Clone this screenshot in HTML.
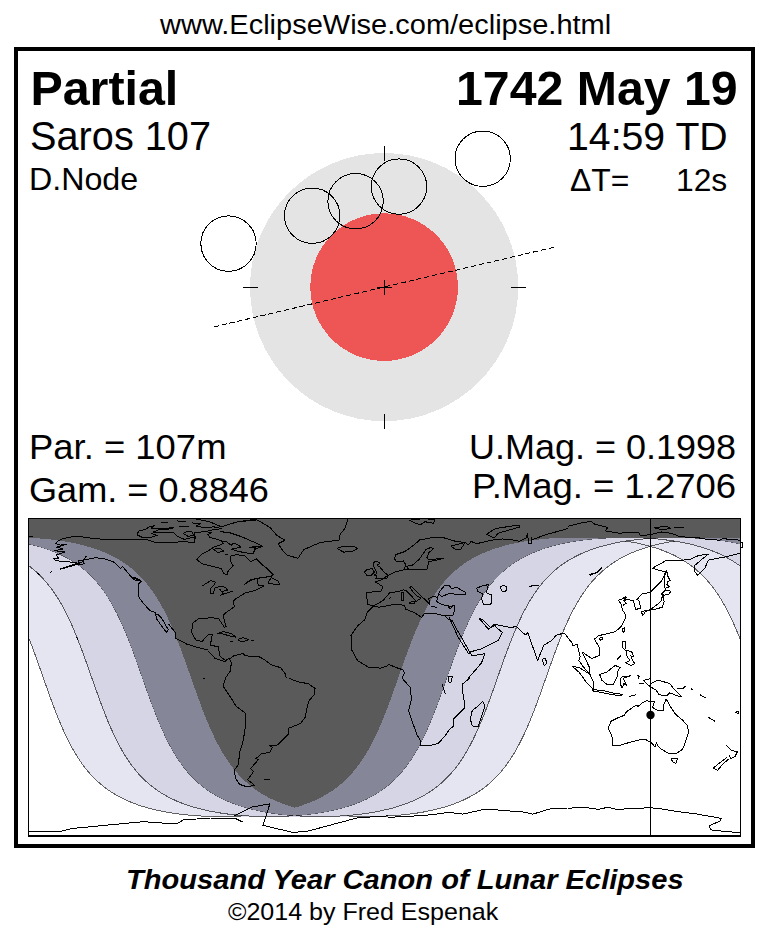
<!DOCTYPE html>
<html><head><meta charset="utf-8"><title>Partial Lunar Eclipse 1742 May 19</title>
<style>
html,body{margin:0;padding:0;background:#fff;}
body{width:770px;height:940px;position:relative;overflow:hidden;font-family:"Liberation Sans",sans-serif;color:#000;}
.t{position:absolute;white-space:pre;line-height:1;margin:0;}
.r{text-align:right;}
#frame{position:absolute;left:14px;top:47px;width:733px;height:793px;border:4px solid #000;}
svg{position:absolute;left:0;top:0;}
</style></head><body>
<div id="frame"></div>
<svg width="770" height="940" viewBox="0 0 770 940">
 <g shape-rendering="crispEdges">
  <circle cx="384.1" cy="287.1" r="134.1" fill="#e4e4e4"/>
  <circle cx="384.1" cy="287.1" r="73.8" fill="#ee5555"/>
 </g>
 <g stroke="#000" stroke-width="1" fill="none" shape-rendering="crispEdges">
  <path d="M384.5,146V161 M384.5,414V429 M243,287.5H258 M511,287.5H526 M377,287.5H392 M384.5,280V295"/>
 </g>
 <path d="M213.8,326.9L555.4,246.9" stroke="#000" stroke-width="1" stroke-dasharray="5.2,2.8" fill="none" shape-rendering="crispEdges"/>
 <circle cx="228.5" cy="243.6" r="27.7" fill="none" stroke="#000" stroke-width="1" shape-rendering="crispEdges"/><circle cx="312.2" cy="215.7" r="27.7" fill="none" stroke="#000" stroke-width="1" shape-rendering="crispEdges"/><circle cx="355.6" cy="201.2" r="27.7" fill="none" stroke="#000" stroke-width="1" shape-rendering="crispEdges"/><circle cx="399.0" cy="186.6" r="27.7" fill="none" stroke="#000" stroke-width="1" shape-rendering="crispEdges"/><circle cx="482.7" cy="158.7" r="27.7" fill="none" stroke="#000" stroke-width="1" shape-rendering="crispEdges"/>
 <!-- map -->
 <g shape-rendering="crispEdges">
  <rect x="29" y="519" width="711" height="316" fill="#fff"/>
  <path d="M29.0,519.0 L740.0,519.0 L740.0,638.7 L739.0,636.2 L738.0,633.8 L737.0,631.4 L736.0,629.0 L735.0,626.7 L734.0,624.4 L733.0,622.2 L732.0,620.0 L731.0,617.9 L730.0,615.8 L729.0,613.8 L728.0,611.9 L727.0,609.9 L726.0,608.0 L725.0,606.2 L724.0,604.4 L723.0,602.7 L722.0,601.0 L721.0,599.3 L720.0,597.7 L719.0,596.2 L718.0,594.6 L717.0,593.1 L716.0,591.7 L715.0,590.3 L714.0,588.9 L713.0,587.6 L712.0,586.3 L711.0,585.0 L710.0,583.8 L709.0,582.6 L708.0,581.4 L707.0,580.3 L706.0,579.2 L705.0,578.1 L704.0,577.0 L703.0,576.0 L702.0,575.0 L701.0,574.0 L700.0,573.1 L699.0,572.2 L698.0,571.3 L697.0,570.4 L696.0,569.6 L695.0,568.7 L694.0,567.9 L693.0,567.1 L692.0,566.4 L691.0,565.6 L690.0,564.9 L689.0,564.2 L688.0,563.5 L687.0,562.8 L686.0,562.1 L685.0,561.5 L684.0,560.9 L683.0,560.2 L682.0,559.6 L681.0,559.1 L680.0,558.5 L679.0,557.9 L678.0,557.4 L677.0,556.8 L676.0,556.3 L675.0,555.8 L674.0,555.3 L673.0,554.8 L672.0,554.4 L671.0,553.9 L670.0,553.5 L669.0,553.0 L668.0,552.6 L667.0,552.2 L666.0,551.8 L665.0,551.4 L664.0,551.0 L663.0,550.6 L662.0,550.2 L661.0,549.8 L660.0,549.5 L659.0,549.1 L658.0,548.8 L657.0,548.5 L656.0,548.1 L655.0,547.8 L654.0,547.5 L653.0,547.2 L652.0,546.9 L651.0,546.6 L650.0,546.4 L649.0,546.7 L648.0,547.0 L647.0,547.3 L646.0,547.6 L645.0,547.9 L644.0,548.2 L643.0,548.5 L642.0,548.9 L641.0,549.2 L640.0,549.6 L639.0,549.9 L638.0,550.3 L637.0,550.7 L636.0,551.1 L635.0,551.5 L634.0,551.9 L633.0,552.3 L632.0,552.7 L631.0,553.1 L630.0,553.6 L629.0,554.0 L628.0,554.5 L627.0,555.0 L626.0,555.5 L625.0,556.0 L624.0,556.5 L623.0,557.0 L622.0,557.5 L621.0,558.1 L620.0,558.6 L619.0,559.2 L618.0,559.8 L617.0,560.4 L616.0,561.0 L615.0,561.7 L614.0,562.3 L613.0,563.0 L612.0,563.7 L611.0,564.4 L610.0,565.1 L609.0,565.8 L608.0,566.6 L607.0,567.3 L606.0,568.1 L605.0,568.9 L604.0,569.8 L603.0,570.6 L602.0,571.5 L601.0,572.4 L600.0,573.4 L599.0,574.3 L598.0,575.3 L597.0,576.3 L596.0,577.3 L595.0,578.4 L594.0,579.5 L593.0,580.6 L592.0,581.7 L591.0,582.9 L590.0,584.1 L589.0,585.3 L588.0,586.6 L587.0,587.9 L586.0,589.3 L585.0,590.7 L584.0,592.1 L583.0,593.5 L582.0,595.0 L581.0,596.6 L580.0,598.2 L579.0,599.8 L578.0,601.4 L577.0,603.2 L576.0,604.9 L575.0,606.7 L574.0,608.6 L573.0,610.4 L572.0,612.4 L571.0,614.4 L570.0,616.4 L569.0,618.5 L568.0,620.6 L567.0,622.8 L566.0,625.0 L565.0,627.3 L564.0,629.6 L563.0,632.0 L562.0,634.4 L561.0,636.9 L560.0,639.4 L559.0,641.9 L558.0,644.5 L557.0,647.2 L556.0,649.8 L555.0,652.5 L554.0,655.2 L553.0,658.0 L552.0,660.8 L551.0,663.5 L550.0,666.4 L549.0,669.2 L548.0,672.0 L547.0,674.9 L546.0,677.7 L545.0,680.6 L544.0,683.4 L543.0,686.2 L542.0,689.1 L541.0,691.9 L540.0,694.7 L539.0,697.4 L538.0,700.2 L537.0,702.9 L536.0,705.5 L535.0,708.2 L534.0,710.8 L533.0,713.3 L532.0,715.9 L531.0,718.4 L530.0,720.8 L529.0,723.2 L528.0,725.5 L527.0,727.8 L526.0,730.1 L525.0,732.3 L524.0,734.5 L523.0,736.6 L522.0,738.6 L521.0,740.6 L520.0,742.6 L519.0,744.5 L518.0,746.4 L517.0,748.2 L516.0,750.0 L515.0,751.7 L514.0,753.4 L513.0,755.0 L512.0,756.6 L511.0,758.2 L510.0,759.7 L509.0,761.2 L508.0,762.6 L507.0,764.0 L506.0,765.4 L505.0,766.7 L504.0,768.0 L503.0,769.3 L502.0,770.5 L501.0,771.7 L500.0,772.9 L499.0,774.0 L498.0,775.1 L497.0,776.2 L496.0,777.2 L495.0,778.2 L494.0,779.2 L493.0,780.2 L492.0,781.1 L491.0,782.0 L490.0,782.9 L489.0,783.8 L488.0,784.6 L487.0,785.5 L486.0,786.3 L485.0,787.1 L484.0,787.8 L483.0,788.6 L482.0,789.3 L481.0,790.0 L480.0,790.7 L479.0,791.4 L478.0,792.0 L477.0,792.7 L476.0,793.3 L475.0,793.9 L474.0,794.5 L473.0,795.1 L472.0,795.6 L471.0,796.2 L470.0,796.7 L469.0,797.3 L468.0,797.8 L467.0,798.3 L466.0,798.8 L465.0,799.3 L464.0,799.7 L463.0,800.2 L462.0,800.6 L461.0,801.1 L460.0,801.5 L459.0,801.9 L458.0,802.3 L457.0,802.7 L456.0,803.1 L455.0,803.5 L454.0,803.9 L453.0,804.2 L452.0,804.6 L451.0,805.0 L450.0,805.3 L449.0,805.6 L448.0,806.0 L447.0,806.3 L446.0,806.6 L445.0,806.9 L444.0,807.2 L443.0,807.5 L442.0,807.8 L441.0,808.0 L440.0,808.3 L439.0,808.6 L438.0,808.8 L437.0,809.1 L436.0,809.3 L435.0,809.6 L434.0,809.8 L433.0,810.0 L432.0,810.3 L431.0,810.5 L430.0,810.7 L429.0,810.9 L428.0,811.1 L427.0,811.3 L426.0,811.5 L425.0,811.7 L424.0,811.9 L423.0,812.1 L422.0,812.2 L421.0,812.4 L420.0,812.6 L419.0,812.7 L418.0,812.9 L417.0,813.1 L416.0,813.2 L415.0,813.4 L414.0,813.5 L413.0,813.6 L412.0,813.8 L411.0,813.9 L410.0,814.0 L409.0,814.2 L408.0,814.3 L407.0,814.4 L406.0,814.5 L405.0,814.6 L404.0,814.7 L403.0,814.8 L402.0,814.9 L401.0,815.0 L400.0,815.1 L399.0,815.2 L398.0,815.3 L397.0,815.4 L396.0,815.5 L395.0,815.5 L394.0,815.6 L393.0,815.7 L392.0,815.8 L391.0,815.8 L390.0,815.9 L389.0,815.9 L388.0,816.0 L387.0,816.1 L386.0,816.1 L385.0,816.2 L384.0,816.2 L383.0,816.2 L382.0,816.3 L381.0,816.3 L380.0,816.4 L379.0,816.4 L378.0,816.4 L377.0,816.4 L376.0,816.5 L375.0,816.5 L374.0,816.5 L373.0,816.5 L372.0,816.5 L371.0,816.5 L370.0,816.5 L369.0,816.5 L368.0,816.5 L367.0,816.5 L366.0,816.5 L365.0,816.5 L364.0,816.5 L363.0,816.5 L362.0,816.5 L361.0,816.5 L360.0,816.5 L359.0,816.5 L358.0,816.5 L357.0,816.5 L356.0,816.5 L355.0,816.5 L354.0,816.5 L353.0,816.5 L352.0,816.5 L351.0,816.5 L350.0,816.5 L349.0,816.5 L348.0,816.5 L347.0,816.5 L346.0,816.5 L345.0,816.5 L344.0,816.5 L343.0,816.5 L342.0,816.5 L341.0,816.5 L340.0,816.5 L339.0,816.5 L338.0,816.5 L337.0,816.5 L336.0,816.5 L335.0,816.5 L334.0,816.5 L333.0,816.5 L332.0,816.5 L331.0,816.5 L330.0,816.5 L329.0,816.5 L328.0,816.5 L327.0,816.5 L326.0,816.5 L325.0,816.5 L324.0,816.5 L323.0,816.5 L322.0,816.5 L321.0,816.5 L320.0,816.5 L319.0,816.5 L318.0,816.5 L317.0,816.5 L316.0,816.5 L315.0,816.5 L314.0,816.5 L313.0,816.5 L312.0,816.5 L311.0,816.5 L310.0,816.5 L309.0,816.5 L308.0,816.5 L307.0,816.5 L306.0,816.5 L305.0,816.5 L304.0,816.5 L303.0,816.5 L302.0,816.5 L301.0,816.5 L300.0,816.5 L299.0,816.5 L298.0,816.5 L297.0,816.5 L296.0,816.5 L295.0,816.5 L294.0,816.5 L293.0,816.5 L292.0,816.5 L291.0,816.5 L290.0,816.5 L289.0,816.5 L288.0,816.5 L287.0,816.5 L286.0,816.5 L285.0,816.5 L284.0,816.5 L283.0,816.5 L282.0,816.5 L281.0,816.5 L280.0,816.5 L279.0,816.5 L278.0,816.5 L277.0,816.5 L276.0,816.5 L275.0,816.5 L274.0,816.5 L273.0,816.5 L272.0,816.5 L271.0,816.5 L270.0,816.5 L269.0,816.5 L268.0,816.5 L267.0,816.5 L266.0,816.5 L265.0,816.5 L264.0,816.5 L263.0,816.5 L262.0,816.5 L261.0,816.5 L260.0,816.5 L259.0,816.5 L258.0,816.5 L257.0,816.5 L256.0,816.5 L255.0,816.5 L254.0,816.5 L253.0,816.5 L252.0,816.5 L251.0,816.5 L250.0,816.5 L249.0,816.5 L248.0,816.5 L247.0,816.5 L246.0,816.5 L245.0,816.5 L244.0,816.5 L243.0,816.5 L242.0,816.5 L241.0,816.5 L240.0,816.5 L239.0,816.5 L238.0,816.5 L237.0,816.5 L236.0,816.5 L235.0,816.5 L234.0,816.5 L233.0,816.5 L232.0,816.5 L231.0,816.5 L230.0,816.5 L229.0,816.5 L228.0,816.5 L227.0,816.5 L226.0,816.5 L225.0,816.5 L224.0,816.5 L223.0,816.5 L222.0,816.5 L221.0,816.5 L220.0,816.5 L219.0,816.5 L218.0,816.5 L217.0,816.5 L216.0,816.5 L215.0,816.5 L214.0,816.5 L213.0,816.5 L212.0,816.4 L211.0,816.4 L210.0,816.4 L209.0,816.3 L208.0,816.3 L207.0,816.3 L206.0,816.2 L205.0,816.2 L204.0,816.1 L203.0,816.1 L202.0,816.0 L201.0,816.0 L200.0,815.9 L199.0,815.9 L198.0,815.8 L197.0,815.7 L196.0,815.7 L195.0,815.6 L194.0,815.5 L193.0,815.4 L192.0,815.4 L191.0,815.3 L190.0,815.2 L189.0,815.1 L188.0,815.0 L187.0,814.9 L186.0,814.8 L185.0,814.7 L184.0,814.6 L183.0,814.5 L182.0,814.4 L181.0,814.2 L180.0,814.1 L179.0,814.0 L178.0,813.9 L177.0,813.7 L176.0,813.6 L175.0,813.5 L174.0,813.3 L173.0,813.2 L172.0,813.0 L171.0,812.9 L170.0,812.7 L169.0,812.5 L168.0,812.4 L167.0,812.2 L166.0,812.0 L165.0,811.8 L164.0,811.6 L163.0,811.4 L162.0,811.3 L161.0,811.1 L160.0,810.8 L159.0,810.6 L158.0,810.4 L157.0,810.2 L156.0,810.0 L155.0,809.7 L154.0,809.5 L153.0,809.3 L152.0,809.0 L151.0,808.8 L150.0,808.5 L149.0,808.2 L148.0,808.0 L147.0,807.7 L146.0,807.4 L145.0,807.1 L144.0,806.8 L143.0,806.5 L142.0,806.2 L141.0,805.9 L140.0,805.5 L139.0,805.2 L138.0,804.9 L137.0,804.5 L136.0,804.1 L135.0,803.8 L134.0,803.4 L133.0,803.0 L132.0,802.6 L131.0,802.2 L130.0,801.8 L129.0,801.4 L128.0,801.0 L127.0,800.5 L126.0,800.1 L125.0,799.6 L124.0,799.1 L123.0,798.7 L122.0,798.2 L121.0,797.6 L120.0,797.1 L119.0,796.6 L118.0,796.1 L117.0,795.5 L116.0,794.9 L115.0,794.3 L114.0,793.7 L113.0,793.1 L112.0,792.5 L111.0,791.8 L110.0,791.2 L109.0,790.5 L108.0,789.8 L107.0,789.1 L106.0,788.4 L105.0,787.6 L104.0,786.8 L103.0,786.0 L102.0,785.2 L101.0,784.4 L100.0,783.6 L99.0,782.7 L98.0,781.8 L97.0,780.9 L96.0,779.9 L95.0,778.9 L94.0,777.9 L93.0,776.9 L92.0,775.9 L91.0,774.8 L90.0,773.7 L89.0,772.5 L88.0,771.4 L87.0,770.2 L86.0,768.9 L85.0,767.7 L84.0,766.4 L83.0,765.0 L82.0,763.7 L81.0,762.2 L80.0,760.8 L79.0,759.3 L78.0,757.8 L77.0,756.2 L76.0,754.6 L75.0,752.9 L74.0,751.2 L73.0,749.5 L72.0,747.7 L71.0,745.9 L70.0,744.0 L69.0,742.1 L68.0,740.1 L67.0,738.1 L66.0,736.0 L65.0,733.9 L64.0,731.7 L63.0,729.5 L62.0,727.2 L61.0,724.9 L60.0,722.5 L59.0,720.1 L58.0,717.7 L57.0,715.2 L56.0,712.6 L55.0,710.1 L54.0,707.5 L53.0,704.8 L52.0,702.1 L51.0,699.4 L50.0,696.7 L49.0,693.9 L48.0,691.1 L47.0,688.3 L46.0,685.5 L45.0,682.6 L44.0,679.8 L43.0,676.9 L42.0,674.1 L41.0,671.2 L40.0,668.4 L39.0,665.6 L38.0,662.8 L37.0,660.0 L36.0,657.2 L35.0,654.5 L34.0,651.8 L33.0,649.1 L32.0,646.4 L31.0,643.8 L30.0,641.2 L29.0,638.7Z" fill="#e5e5f1"/>
  <g fill="none" stroke="#000" stroke-opacity="0.6" stroke-width="1"><path d="M29.0,638.7 L30.0,641.2 L31.0,643.8 L32.0,646.4 L33.0,649.1 L34.0,651.8 L35.0,654.5 L36.0,657.2 L37.0,660.0 L38.0,662.8 L39.0,665.6 L40.0,668.4 L41.0,671.2 L42.0,674.1 L43.0,676.9 L44.0,679.8 L45.0,682.6 L46.0,685.5 L47.0,688.3 L48.0,691.1 L49.0,693.9 L50.0,696.7 L51.0,699.4 L52.0,702.1 L53.0,704.8 L54.0,707.5 L55.0,710.1 L56.0,712.6 L57.0,715.2 L58.0,717.7 L59.0,720.1 L60.0,722.5 L61.0,724.9 L62.0,727.2 L63.0,729.5 L64.0,731.7 L65.0,733.9 L66.0,736.0 L67.0,738.1 L68.0,740.1 L69.0,742.1 L70.0,744.0 L71.0,745.9 L72.0,747.7 L73.0,749.5 L74.0,751.2 L75.0,752.9 L76.0,754.6 L77.0,756.2 L78.0,757.8 L79.0,759.3 L80.0,760.8 L81.0,762.2 L82.0,763.7 L83.0,765.0 L84.0,766.4 L85.0,767.7 L86.0,768.9 L87.0,770.2 L88.0,771.4 L89.0,772.5 L90.0,773.7 L91.0,774.8 L92.0,775.9 L93.0,776.9 L94.0,777.9 L95.0,778.9 L96.0,779.9 L97.0,780.9 L98.0,781.8 L99.0,782.7 L100.0,783.6 L101.0,784.4 L102.0,785.2 L103.0,786.0 L104.0,786.8 L105.0,787.6 L106.0,788.4 L107.0,789.1 L108.0,789.8 L109.0,790.5 L110.0,791.2 L111.0,791.8 L112.0,792.5 L113.0,793.1 L114.0,793.7 L115.0,794.3 L116.0,794.9 L117.0,795.5 L118.0,796.1 L119.0,796.6 L120.0,797.1 L121.0,797.6 L122.0,798.2 L123.0,798.7 L124.0,799.1 L125.0,799.6 L126.0,800.1 L127.0,800.5 L128.0,801.0 L129.0,801.4 L130.0,801.8 L131.0,802.2 L132.0,802.6 L133.0,803.0 L134.0,803.4 L135.0,803.8 L136.0,804.1 L137.0,804.5 L138.0,804.9 L139.0,805.2 L140.0,805.5 L141.0,805.9 L142.0,806.2 L143.0,806.5 L144.0,806.8 L145.0,807.1 L146.0,807.4 L147.0,807.7 L148.0,808.0 L149.0,808.2 L150.0,808.5 L151.0,808.8 L152.0,809.0 L153.0,809.3 L154.0,809.5 L155.0,809.7 L156.0,810.0 L157.0,810.2 L158.0,810.4 L159.0,810.6 L160.0,810.8 L161.0,811.1 L162.0,811.3 L163.0,811.4 L164.0,811.6 L165.0,811.8 L166.0,812.0 L167.0,812.2 L168.0,812.4 L169.0,812.5 L170.0,812.7 L171.0,812.9 L172.0,813.0 L173.0,813.2 L174.0,813.3 L175.0,813.5 L176.0,813.6 L177.0,813.7 L178.0,813.9 L179.0,814.0 L180.0,814.1 L181.0,814.2 L182.0,814.4 L183.0,814.5 L184.0,814.6 L185.0,814.7 L186.0,814.8 L187.0,814.9 L188.0,815.0 L189.0,815.1 L190.0,815.2 L191.0,815.3 L192.0,815.4 L193.0,815.4 L194.0,815.5 L195.0,815.6 L196.0,815.7 L197.0,815.7 L198.0,815.8 L199.0,815.9 L200.0,815.9 L201.0,816.0 L202.0,816.0 L203.0,816.1 L204.0,816.1 L205.0,816.2 L206.0,816.2 L207.0,816.3 L208.0,816.3 L209.0,816.3 L210.0,816.4 L211.0,816.4 L212.0,816.4 L213.0,816.5 L214.0,816.5 L215.0,816.5 L216.0,816.5 L217.0,816.5 L218.0,816.5 L219.0,816.5 L220.0,816.5 L221.0,816.5 L222.0,816.5 L223.0,816.5 L224.0,816.5 L225.0,816.5 L226.0,816.5 L227.0,816.5 L228.0,816.5 L229.0,816.4 L230.0,816.4 L231.0,816.4 L232.0,816.4 L233.0,816.3 L234.0,816.3 L235.0,816.3 L236.0,816.2 L237.0,816.2 L238.0,816.1 L239.0,816.1 L240.0,816.0 L241.0,816.0 L242.0,815.9 L243.0,815.8 L244.0,815.8 L245.0,815.7 L246.0,815.6 L247.0,815.6 L248.0,815.5 L249.0,815.4 L250.0,815.3 L251.0,815.2 L252.0,815.1 L253.0,815.1 L254.0,815.0 L255.0,814.9 L256.0,814.8 L257.0,814.7 L258.0,814.5 L259.0,814.4 L260.0,814.3 L261.0,814.2 L262.0,814.1 L263.0,813.9 L264.0,813.8 L265.0,813.7 L266.0,813.5 L267.0,813.4 L268.0,813.2 L269.0,813.1 L270.0,812.9 L271.0,812.8 L272.0,812.6 L273.0,812.5 L274.0,812.3 L275.0,812.1 L276.0,811.9 L277.0,811.7 L278.0,811.6 L279.0,811.4 L280.0,811.2 L281.0,811.0 L282.0,810.7 L283.0,810.5 L284.0,810.3 L285.0,810.1 L286.0,809.9 L287.0,809.6 L288.0,809.4 L289.0,809.1 L290.0,808.9 L291.0,808.6 L292.0,808.4 L293.0,808.1 L294.0,807.8 L295.0,807.5 L296.0,807.3 L297.0,807.0 L298.0,806.7 L299.0,806.4 L300.0,806.0 L301.0,805.7 L302.0,805.4 L303.0,805.0 L304.0,804.7 L305.0,804.3 L306.0,804.0 L307.0,803.6 L308.0,803.2 L309.0,802.8 L310.0,802.4 L311.0,802.0 L312.0,801.6 L313.0,801.2 L314.0,800.8 L315.0,800.3 L316.0,799.9 L317.0,799.4 L318.0,798.9 L319.0,798.4 L320.0,797.9 L321.0,797.4 L322.0,796.9 L323.0,796.4 L324.0,795.8 L325.0,795.2 L326.0,794.7 L327.0,794.1 L328.0,793.5 L329.0,792.8 L330.0,792.2 L331.0,791.5 L332.0,790.9 L333.0,790.2 L334.0,789.5 L335.0,788.8 L336.0,788.0 L337.0,787.3 L338.0,786.5 L339.0,785.7 L340.0,784.9 L341.0,784.0 L342.0,783.2 L343.0,782.3 L344.0,781.4 L345.0,780.4 L346.0,779.5 L347.0,778.5 L348.0,777.5 L349.0,776.4 L350.0,775.4 L351.0,774.3 L352.0,773.2 L353.0,772.0 L354.0,770.8 L355.0,769.6 L356.0,768.4 L357.0,767.1 L358.0,765.8 L359.0,764.4 L360.0,763.0 L361.0,761.6 L362.0,760.1 L363.0,758.6 L364.0,757.1 L365.0,755.5 L366.0,753.8 L367.0,752.2 L368.0,750.5 L369.0,748.7 L370.0,746.9 L371.0,745.0 L372.0,743.1 L373.0,741.2 L374.0,739.2 L375.0,737.1 L376.0,735.0 L377.0,732.9 L378.0,730.7 L379.0,728.5 L380.0,726.2 L381.0,723.8 L382.0,721.4 L383.0,719.0 L384.0,716.5 L385.0,714.0 L386.0,711.5 L387.0,708.9 L388.0,706.3 L389.0,703.6 L390.0,700.9 L391.0,698.2 L392.0,695.4 L393.0,692.6 L394.0,689.8 L395.0,687.0 L396.0,684.2 L397.0,681.3 L398.0,678.5 L399.0,675.6 L400.0,672.8 L401.0,670.0 L402.0,667.1 L403.0,664.3 L404.0,661.5 L405.0,658.7 L406.0,656.0 L407.0,653.2 L408.0,650.5 L409.0,647.9 L410.0,645.2 L411.0,642.6 L412.0,640.1 L413.0,637.6 L414.0,635.1 L415.0,632.7 L416.0,630.3 L417.0,627.9 L418.0,625.7 L419.0,623.4 L420.0,621.2 L421.0,619.1 L422.0,617.0 L423.0,614.9 L424.0,612.9 L425.0,611.0 L426.0,609.1 L427.0,607.2 L428.0,605.4 L429.0,603.6 L430.0,601.9 L431.0,600.2 L432.0,598.6 L433.0,597.0 L434.0,595.5 L435.0,593.9 L436.0,592.5 L437.0,591.0 L438.0,589.7 L439.0,588.3 L440.0,587.0 L441.0,585.7 L442.0,584.4 L443.0,583.2 L444.0,582.0 L445.0,580.9 L446.0,579.8 L447.0,578.7 L448.0,577.6 L449.0,576.6 L450.0,575.6 L451.0,574.6 L452.0,573.6 L453.0,572.7 L454.0,571.8 L455.0,570.9 L456.0,570.0 L457.0,569.2 L458.0,568.4 L459.0,567.6 L460.0,566.8 L461.0,566.0 L462.0,565.3 L463.0,564.5 L464.0,563.8 L465.0,563.2 L466.0,562.5 L467.0,561.8 L468.0,561.2 L469.0,560.6 L470.0,560.0 L471.0,559.4 L472.0,558.8 L473.0,558.2 L474.0,557.7 L475.0,557.1 L476.0,556.6 L477.0,556.1 L478.0,555.6 L479.0,555.1 L480.0,554.6 L481.0,554.2 L482.0,553.7 L483.0,553.3 L484.0,552.8 L485.0,552.4 L486.0,552.0 L487.0,551.6 L488.0,551.2 L489.0,550.8 L490.0,550.4 L491.0,550.0 L492.0,549.7 L493.0,549.3 L494.0,549.0 L495.0,548.6 L496.0,548.3 L497.0,548.0 L498.0,547.7 L499.0,547.4 L500.0,547.0 L501.0,546.8 L502.0,546.5 L503.0,546.2 L504.0,545.9 L505.0,545.6 L506.0,545.4 L507.0,545.1 L508.0,544.9 L509.0,544.6 L510.0,544.4 L511.0,544.1 L512.0,543.9 L513.0,543.7 L514.0,543.5 L515.0,543.3 L516.0,543.1 L517.0,542.8 L518.0,542.6 L519.0,542.5 L520.0,542.3 L521.0,542.1 L522.0,541.9 L523.0,541.7 L524.0,541.6 L525.0,541.4 L526.0,541.2 L527.0,541.1 L528.0,540.9 L529.0,540.8 L530.0,540.6 L531.0,540.5 L532.0,540.3 L533.0,540.2 L534.0,540.1 L535.0,539.9 L536.0,539.8 L537.0,539.7 L538.0,539.6 L539.0,539.5 L540.0,539.4 L541.0,539.2 L542.0,539.1 L543.0,539.0 L544.0,538.9 L545.0,538.9 L546.0,538.8 L547.0,538.7 L548.0,538.6 L549.0,538.5 L550.0,538.4 L551.0,538.4 L552.0,538.3 L553.0,538.2 L554.0,538.2 L555.0,538.1 L556.0,538.0 L557.0,538.0 L558.0,537.9 L559.0,537.9 L560.0,537.8 L561.0,537.8 L562.0,537.7 L563.0,537.7 L564.0,537.7 L565.0,537.6 L566.0,537.6 L567.0,537.6 L568.0,537.6 L569.0,537.5 L570.0,537.5 L571.0,537.5 L572.0,537.5 L573.0,537.5 L574.0,537.5 L575.0,537.5 L576.0,537.5 L577.0,537.5 L578.0,537.5 L579.0,537.5 L580.0,537.5 L581.0,537.5 L582.0,537.5 L583.0,537.5 L584.0,537.5 L585.0,537.6 L586.0,537.6 L587.0,537.6 L588.0,537.7 L589.0,537.7 L590.0,537.7 L591.0,537.8 L592.0,537.8 L593.0,537.9 L594.0,537.9 L595.0,538.0 L596.0,538.0 L597.0,538.1 L598.0,538.1 L599.0,538.2 L600.0,538.3 L601.0,538.3 L602.0,538.4 L603.0,538.5 L604.0,538.6 L605.0,538.6 L606.0,538.7 L607.0,538.8 L608.0,538.9 L609.0,539.0 L610.0,539.1 L611.0,539.2 L612.0,539.3 L613.0,539.4 L614.0,539.5 L615.0,539.6 L616.0,539.7 L617.0,539.9 L618.0,540.0 L619.0,540.1 L620.0,540.3 L621.0,540.4 L622.0,540.5 L623.0,540.7 L624.0,540.8 L625.0,541.0 L626.0,541.1 L627.0,541.3 L628.0,541.5 L629.0,541.6 L630.0,541.8 L631.0,542.0 L632.0,542.2 L633.0,542.4 L634.0,542.5 L635.0,542.7 L636.0,542.9 L637.0,543.1 L638.0,543.4 L639.0,543.6 L640.0,543.8 L641.0,544.0 L642.0,544.3 L643.0,544.5 L644.0,544.7 L645.0,545.0 L646.0,545.2 L647.0,545.5 L648.0,545.8 L649.0,546.0 L650.0,546.3 L651.0,546.6 L652.0,546.9 L653.0,547.2 L654.0,547.5 L655.0,547.8 L656.0,548.1 L657.0,548.5 L658.0,548.8 L659.0,549.1 L660.0,549.5 L661.0,549.8 L662.0,550.2 L663.0,550.6 L664.0,551.0 L665.0,551.4 L666.0,551.8 L667.0,552.2 L668.0,552.6 L669.0,553.0 L670.0,553.5 L671.0,553.9 L672.0,554.4 L673.0,554.8 L674.0,555.3 L675.0,555.8 L676.0,556.3 L677.0,556.8 L678.0,557.4 L679.0,557.9 L680.0,558.5 L681.0,559.1 L682.0,559.6 L683.0,560.2 L684.0,560.9 L685.0,561.5 L686.0,562.1 L687.0,562.8 L688.0,563.5 L689.0,564.2 L690.0,564.9 L691.0,565.6 L692.0,566.4 L693.0,567.1 L694.0,567.9 L695.0,568.7 L696.0,569.6 L697.0,570.4 L698.0,571.3 L699.0,572.2 L700.0,573.1 L701.0,574.0 L702.0,575.0 L703.0,576.0 L704.0,577.0 L705.0,578.1 L706.0,579.2 L707.0,580.3 L708.0,581.4 L709.0,582.6 L710.0,583.8 L711.0,585.0 L712.0,586.3 L713.0,587.6 L714.0,588.9 L715.0,590.3 L716.0,591.7 L717.0,593.1 L718.0,594.6 L719.0,596.2 L720.0,597.7 L721.0,599.3 L722.0,601.0 L723.0,602.7 L724.0,604.4 L725.0,606.2 L726.0,608.0 L727.0,609.9 L728.0,611.9 L729.0,613.8 L730.0,615.8 L731.0,617.9 L732.0,620.0 L733.0,622.2 L734.0,624.4 L735.0,626.7 L736.0,629.0 L737.0,631.4 L738.0,633.8 L739.0,636.2 L740.0,638.7"/><path d="M29.0,537.8 L30.0,537.9 L31.0,537.9 L32.0,538.0 L33.0,538.0 L34.0,538.1 L35.0,538.1 L36.0,538.2 L37.0,538.3 L38.0,538.3 L39.0,538.4 L40.0,538.5 L41.0,538.6 L42.0,538.7 L43.0,538.7 L44.0,538.8 L45.0,538.9 L46.0,539.0 L47.0,539.1 L48.0,539.2 L49.0,539.3 L50.0,539.4 L51.0,539.5 L52.0,539.7 L53.0,539.8 L54.0,539.9 L55.0,540.0 L56.0,540.2 L57.0,540.3 L58.0,540.4 L59.0,540.6 L60.0,540.7 L61.0,540.9 L62.0,541.0 L63.0,541.2 L64.0,541.3 L65.0,541.5 L66.0,541.7 L67.0,541.9 L68.0,542.0 L69.0,542.2 L70.0,542.4 L71.0,542.6 L72.0,542.8 L73.0,543.0 L74.0,543.2 L75.0,543.4 L76.0,543.6 L77.0,543.9 L78.0,544.1 L79.0,544.3 L80.0,544.6 L81.0,544.8 L82.0,545.0 L83.0,545.3 L84.0,545.6 L85.0,545.8 L86.0,546.1 L87.0,546.4 L88.0,546.7 L89.0,547.0 L90.0,547.3 L91.0,547.6 L92.0,547.9 L93.0,548.2 L94.0,548.5 L95.0,548.9 L96.0,549.2 L97.0,549.6 L98.0,549.9 L99.0,550.3 L100.0,550.7 L101.0,551.1 L102.0,551.5 L103.0,551.9 L104.0,552.3 L105.0,552.7 L106.0,553.1 L107.0,553.6 L108.0,554.0 L109.0,554.5 L110.0,555.0 L111.0,555.5 L112.0,556.0 L113.0,556.5 L114.0,557.0 L115.0,557.5 L116.0,558.1 L117.0,558.6 L118.0,559.2 L119.0,559.8 L120.0,560.4 L121.0,561.0 L122.0,561.7 L123.0,562.3 L124.0,563.0 L125.0,563.7 L126.0,564.4 L127.0,565.1 L128.0,565.8 L129.0,566.6 L130.0,567.3 L131.0,568.1 L132.0,568.9 L133.0,569.8 L134.0,570.6 L135.0,571.5 L136.0,572.4 L137.0,573.3 L138.0,574.3 L139.0,575.3 L140.0,576.3 L141.0,577.3 L142.0,578.4 L143.0,579.5 L144.0,580.6 L145.0,581.7 L146.0,582.9 L147.0,584.1 L148.0,585.3 L149.0,586.6 L150.0,587.9 L151.0,589.3 L152.0,590.7 L153.0,592.1 L154.0,593.5 L155.0,595.0 L156.0,596.6 L157.0,598.2 L158.0,599.8 L159.0,601.4 L160.0,603.1 L161.0,604.9 L162.0,606.7 L163.0,608.5 L164.0,610.4 L165.0,612.4 L166.0,614.4 L167.0,616.4 L168.0,618.5 L169.0,620.6 L170.0,622.8 L171.0,625.0 L172.0,627.3 L173.0,629.6 L174.0,632.0 L175.0,634.4 L176.0,636.9 L177.0,639.4 L178.0,641.9 L179.0,644.5 L180.0,647.1 L181.0,649.8 L182.0,652.5 L183.0,655.2 L184.0,658.0 L185.0,660.7 L186.0,663.5 L187.0,666.3 L188.0,669.2 L189.0,672.0 L190.0,674.9 L191.0,677.7 L192.0,680.6 L193.0,683.4 L194.0,686.2 L195.0,689.0 L196.0,691.9 L197.0,694.6 L198.0,697.4 L199.0,700.1 L200.0,702.8 L201.0,705.5 L202.0,708.2 L203.0,710.8 L204.0,713.3 L205.0,715.9 L206.0,718.3 L207.0,720.8 L208.0,723.2 L209.0,725.5 L210.0,727.8 L211.0,730.1 L212.0,732.3 L213.0,734.4 L214.0,736.6 L215.0,738.6 L216.0,740.6 L217.0,742.6 L218.0,744.5 L219.0,746.4 L220.0,748.2 L221.0,750.0 L222.0,751.7 L223.0,753.4 L224.0,755.0 L225.0,756.6 L226.0,758.2 L227.0,759.7 L228.0,761.2 L229.0,762.6 L230.0,764.0 L231.0,765.4 L232.0,766.7 L233.0,768.0 L234.0,769.3 L235.0,770.5 L236.0,771.7 L237.0,772.9 L238.0,774.0 L239.0,775.1 L240.0,776.2 L241.0,777.2 L242.0,778.2 L243.0,779.2 L244.0,780.2 L245.0,781.1 L246.0,782.0 L247.0,782.9 L248.0,783.8 L249.0,784.6 L250.0,785.5 L251.0,786.3 L252.0,787.0 L253.0,787.8 L254.0,788.6 L255.0,789.3 L256.0,790.0 L257.0,790.7 L258.0,791.4 L259.0,792.0 L260.0,792.7 L261.0,793.3 L262.0,793.9 L263.0,794.5 L264.0,795.1 L265.0,795.6 L266.0,796.2 L267.0,796.7 L268.0,797.3 L269.0,797.8 L270.0,798.3 L271.0,798.8 L272.0,799.3 L273.0,799.7 L274.0,800.2 L275.0,800.6 L276.0,801.1 L277.0,801.5 L278.0,801.9 L279.0,802.3 L280.0,802.7 L281.0,803.1 L282.0,803.5 L283.0,803.9 L284.0,804.2 L285.0,804.6 L286.0,805.0 L287.0,805.3 L288.0,805.6 L289.0,805.9 L290.0,806.3 L291.0,806.6 L292.0,806.9 L293.0,807.2 L294.0,807.5 L295.0,807.8 L296.0,808.0 L297.0,808.3 L298.0,808.6 L299.0,808.8 L300.0,809.1 L301.0,809.3 L302.0,809.6 L303.0,809.8 L304.0,810.0 L305.0,810.3 L306.0,810.5 L307.0,810.7 L308.0,810.9 L309.0,811.1 L310.0,811.3 L311.0,811.5 L312.0,811.7 L313.0,811.9 L314.0,812.1 L315.0,812.2 L316.0,812.4 L317.0,812.6 L318.0,812.7 L319.0,812.9 L320.0,813.1 L321.0,813.2 L322.0,813.4 L323.0,813.5 L324.0,813.6 L325.0,813.8 L326.0,813.9 L327.0,814.0 L328.0,814.2 L329.0,814.3 L330.0,814.4 L331.0,814.5 L332.0,814.6 L333.0,814.7 L334.0,814.8 L335.0,814.9 L336.0,815.0 L337.0,815.1 L338.0,815.2 L339.0,815.3 L340.0,815.4 L341.0,815.5 L342.0,815.5 L343.0,815.6 L344.0,815.7 L345.0,815.8 L346.0,815.8 L347.0,815.9 L348.0,815.9 L349.0,816.0 L350.0,816.1 L351.0,816.1 L352.0,816.2 L353.0,816.2 L354.0,816.2 L355.0,816.3 L356.0,816.3 L357.0,816.4 L358.0,816.4 L359.0,816.4 L360.0,816.4 L361.0,816.5 L362.0,816.5 L363.0,816.5 L364.0,816.5 L365.0,816.5 L366.0,816.5 L367.0,816.5 L368.0,816.5 L369.0,816.5 L370.0,816.5 L371.0,816.5 L372.0,816.5 L373.0,816.5 L374.0,816.5 L375.0,816.5 L376.0,816.5 L377.0,816.4 L378.0,816.4 L379.0,816.4 L380.0,816.4 L381.0,816.3 L382.0,816.3 L383.0,816.2 L384.0,816.2 L385.0,816.2 L386.0,816.1 L387.0,816.1 L388.0,816.0 L389.0,815.9 L390.0,815.9 L391.0,815.8 L392.0,815.8 L393.0,815.7 L394.0,815.6 L395.0,815.5 L396.0,815.5 L397.0,815.4 L398.0,815.3 L399.0,815.2 L400.0,815.1 L401.0,815.0 L402.0,814.9 L403.0,814.8 L404.0,814.7 L405.0,814.6 L406.0,814.5 L407.0,814.4 L408.0,814.3 L409.0,814.2 L410.0,814.0 L411.0,813.9 L412.0,813.8 L413.0,813.6 L414.0,813.5 L415.0,813.4 L416.0,813.2 L417.0,813.1 L418.0,812.9 L419.0,812.7 L420.0,812.6 L421.0,812.4 L422.0,812.2 L423.0,812.1 L424.0,811.9 L425.0,811.7 L426.0,811.5 L427.0,811.3 L428.0,811.1 L429.0,810.9 L430.0,810.7 L431.0,810.5 L432.0,810.3 L433.0,810.0 L434.0,809.8 L435.0,809.6 L436.0,809.3 L437.0,809.1 L438.0,808.8 L439.0,808.6 L440.0,808.3 L441.0,808.0 L442.0,807.8 L443.0,807.5 L444.0,807.2 L445.0,806.9 L446.0,806.6 L447.0,806.3 L448.0,806.0 L449.0,805.6 L450.0,805.3 L451.0,805.0 L452.0,804.6 L453.0,804.2 L454.0,803.9 L455.0,803.5 L456.0,803.1 L457.0,802.7 L458.0,802.3 L459.0,801.9 L460.0,801.5 L461.0,801.1 L462.0,800.6 L463.0,800.2 L464.0,799.7 L465.0,799.3 L466.0,798.8 L467.0,798.3 L468.0,797.8 L469.0,797.3 L470.0,796.7 L471.0,796.2 L472.0,795.6 L473.0,795.1 L474.0,794.5 L475.0,793.9 L476.0,793.3 L477.0,792.7 L478.0,792.0 L479.0,791.4 L480.0,790.7 L481.0,790.0 L482.0,789.3 L483.0,788.6 L484.0,787.8 L485.0,787.1 L486.0,786.3 L487.0,785.5 L488.0,784.6 L489.0,783.8 L490.0,782.9 L491.0,782.0 L492.0,781.1 L493.0,780.2 L494.0,779.2 L495.0,778.2 L496.0,777.2 L497.0,776.2 L498.0,775.1 L499.0,774.0 L500.0,772.9 L501.0,771.7 L502.0,770.5 L503.0,769.3 L504.0,768.0 L505.0,766.7 L506.0,765.4 L507.0,764.0 L508.0,762.6 L509.0,761.2 L510.0,759.7 L511.0,758.2 L512.0,756.6 L513.0,755.0 L514.0,753.4 L515.0,751.7 L516.0,750.0 L517.0,748.2 L518.0,746.4 L519.0,744.5 L520.0,742.6 L521.0,740.6 L522.0,738.6 L523.0,736.6 L524.0,734.5 L525.0,732.3 L526.0,730.1 L527.0,727.8 L528.0,725.5 L529.0,723.2 L530.0,720.8 L531.0,718.4 L532.0,715.9 L533.0,713.3 L534.0,710.8 L535.0,708.2 L536.0,705.5 L537.0,702.9 L538.0,700.2 L539.0,697.4 L540.0,694.7 L541.0,691.9 L542.0,689.1 L543.0,686.2 L544.0,683.4 L545.0,680.6 L546.0,677.7 L547.0,674.9 L548.0,672.0 L549.0,669.2 L550.0,666.4 L551.0,663.5 L552.0,660.8 L553.0,658.0 L554.0,655.2 L555.0,652.5 L556.0,649.8 L557.0,647.2 L558.0,644.5 L559.0,641.9 L560.0,639.4 L561.0,636.9 L562.0,634.4 L563.0,632.0 L564.0,629.6 L565.0,627.3 L566.0,625.0 L567.0,622.8 L568.0,620.6 L569.0,618.5 L570.0,616.4 L571.0,614.4 L572.0,612.4 L573.0,610.4 L574.0,608.6 L575.0,606.7 L576.0,604.9 L577.0,603.2 L578.0,601.4 L579.0,599.8 L580.0,598.2 L581.0,596.6 L582.0,595.0 L583.0,593.5 L584.0,592.1 L585.0,590.7 L586.0,589.3 L587.0,587.9 L588.0,586.6 L589.0,585.3 L590.0,584.1 L591.0,582.9 L592.0,581.7 L593.0,580.6 L594.0,579.5 L595.0,578.4 L596.0,577.3 L597.0,576.3 L598.0,575.3 L599.0,574.3 L600.0,573.4 L601.0,572.4 L602.0,571.5 L603.0,570.6 L604.0,569.8 L605.0,568.9 L606.0,568.1 L607.0,567.3 L608.0,566.6 L609.0,565.8 L610.0,565.1 L611.0,564.4 L612.0,563.7 L613.0,563.0 L614.0,562.3 L615.0,561.7 L616.0,561.0 L617.0,560.4 L618.0,559.8 L619.0,559.2 L620.0,558.6 L621.0,558.1 L622.0,557.5 L623.0,557.0 L624.0,556.5 L625.0,556.0 L626.0,555.5 L627.0,555.0 L628.0,554.5 L629.0,554.0 L630.0,553.6 L631.0,553.1 L632.0,552.7 L633.0,552.3 L634.0,551.9 L635.0,551.5 L636.0,551.1 L637.0,550.7 L638.0,550.3 L639.0,549.9 L640.0,549.6 L641.0,549.2 L642.0,548.9 L643.0,548.5 L644.0,548.2 L645.0,547.9 L646.0,547.6 L647.0,547.3 L648.0,547.0 L649.0,546.7 L650.0,546.4 L651.0,546.1 L652.0,545.8 L653.0,545.6 L654.0,545.3 L655.0,545.0 L656.0,544.8 L657.0,544.6 L658.0,544.3 L659.0,544.1 L660.0,543.9 L661.0,543.6 L662.0,543.4 L663.0,543.2 L664.0,543.0 L665.0,542.8 L666.0,542.6 L667.0,542.4 L668.0,542.2 L669.0,542.0 L670.0,541.9 L671.0,541.7 L672.0,541.5 L673.0,541.3 L674.0,541.2 L675.0,541.0 L676.0,540.9 L677.0,540.7 L678.0,540.6 L679.0,540.4 L680.0,540.3 L681.0,540.2 L682.0,540.0 L683.0,539.9 L684.0,539.8 L685.0,539.7 L686.0,539.5 L687.0,539.4 L688.0,539.3 L689.0,539.2 L690.0,539.1 L691.0,539.0 L692.0,538.9 L693.0,538.8 L694.0,538.7 L695.0,538.7 L696.0,538.6 L697.0,538.5 L698.0,538.4 L699.0,538.3 L700.0,538.3 L701.0,538.2 L702.0,538.1 L703.0,538.1 L704.0,538.0 L705.0,538.0 L706.0,537.9 L707.0,537.9 L708.0,537.8 L709.0,537.8 L710.0,537.7 L711.0,537.7 L712.0,537.7 L713.0,537.6 L714.0,537.6 L715.0,537.6 L716.0,537.6 L717.0,537.5 L718.0,537.5 L719.0,537.5 L720.0,537.5 L721.0,537.5 L722.0,537.5 L723.0,537.5 L724.0,537.5 L725.0,537.5 L726.0,537.5 L727.0,537.5 L728.0,537.5 L729.0,537.5 L730.0,537.5 L731.0,537.5 L732.0,537.6 L733.0,537.6 L734.0,537.6 L735.0,537.6 L736.0,537.7 L737.0,537.7 L738.0,537.7 L739.0,537.8 L740.0,537.8"/></g>
  <path d="M29.0,519.0 L740.0,519.0 L740.0,566.0 L739.0,565.2 L738.0,564.5 L737.0,563.8 L736.0,563.1 L735.0,562.5 L734.0,561.8 L733.0,561.2 L732.0,560.6 L731.0,559.9 L730.0,559.4 L729.0,558.8 L728.0,558.2 L727.0,557.7 L726.0,557.1 L725.0,556.6 L724.0,556.1 L723.0,555.6 L722.0,555.1 L721.0,554.6 L720.0,554.1 L719.0,553.7 L718.0,553.2 L717.0,552.8 L716.0,552.4 L715.0,552.0 L714.0,551.6 L713.0,551.2 L712.0,550.8 L711.0,550.4 L710.0,550.0 L709.0,549.7 L708.0,549.3 L707.0,549.0 L706.0,548.6 L705.0,548.3 L704.0,548.0 L703.0,547.7 L702.0,547.3 L701.0,547.0 L700.0,546.7 L699.0,546.5 L698.0,546.2 L697.0,545.9 L696.0,545.6 L695.0,545.4 L694.0,545.1 L693.0,544.9 L692.0,544.6 L691.0,544.4 L690.0,544.1 L689.0,543.9 L688.0,543.7 L687.0,543.5 L686.0,543.3 L685.0,543.0 L684.0,542.8 L683.0,542.6 L682.0,542.4 L681.0,542.3 L680.0,542.1 L679.0,541.9 L678.0,541.7 L677.0,541.5 L676.0,541.4 L675.0,541.2 L674.0,541.1 L673.0,540.9 L672.0,540.8 L671.0,540.6 L670.0,540.5 L669.0,540.3 L668.0,540.2 L667.0,540.1 L666.0,539.9 L665.0,539.8 L664.0,539.7 L663.0,539.6 L662.0,539.5 L661.0,539.4 L660.0,539.2 L659.0,539.1 L658.0,539.0 L657.0,538.9 L656.0,538.9 L655.0,538.8 L654.0,538.7 L653.0,538.6 L652.0,538.5 L651.0,538.4 L650.0,538.4 L649.0,538.5 L648.0,538.5 L647.0,538.6 L646.0,538.7 L645.0,538.8 L644.0,538.9 L643.0,539.0 L642.0,539.1 L641.0,539.2 L640.0,539.3 L639.0,539.4 L638.0,539.5 L637.0,539.6 L636.0,539.7 L635.0,539.8 L634.0,540.0 L633.0,540.1 L632.0,540.2 L631.0,540.4 L630.0,540.5 L629.0,540.6 L628.0,540.8 L627.0,540.9 L626.0,541.1 L625.0,541.3 L624.0,541.4 L623.0,541.6 L622.0,541.8 L621.0,541.9 L620.0,542.1 L619.0,542.3 L618.0,542.5 L617.0,542.7 L616.0,542.9 L615.0,543.1 L614.0,543.3 L613.0,543.5 L612.0,543.7 L611.0,544.0 L610.0,544.2 L609.0,544.4 L608.0,544.7 L607.0,544.9 L606.0,545.2 L605.0,545.4 L604.0,545.7 L603.0,546.0 L602.0,546.3 L601.0,546.5 L600.0,546.8 L599.0,547.1 L598.0,547.4 L597.0,547.7 L596.0,548.1 L595.0,548.4 L594.0,548.7 L593.0,549.1 L592.0,549.4 L591.0,549.8 L590.0,550.1 L589.0,550.5 L588.0,550.9 L587.0,551.3 L586.0,551.7 L585.0,552.1 L584.0,552.5 L583.0,552.9 L582.0,553.4 L581.0,553.8 L580.0,554.3 L579.0,554.7 L578.0,555.2 L577.0,555.7 L576.0,556.2 L575.0,556.7 L574.0,557.3 L573.0,557.8 L572.0,558.4 L571.0,558.9 L570.0,559.5 L569.0,560.1 L568.0,560.7 L567.0,561.3 L566.0,562.0 L565.0,562.6 L564.0,563.3 L563.0,564.0 L562.0,564.7 L561.0,565.5 L560.0,566.2 L559.0,567.0 L558.0,567.7 L557.0,568.6 L556.0,569.4 L555.0,570.2 L554.0,571.1 L553.0,572.0 L552.0,572.9 L551.0,573.8 L550.0,574.8 L549.0,575.8 L548.0,576.8 L547.0,577.9 L546.0,578.9 L545.0,580.0 L544.0,581.2 L543.0,582.3 L542.0,583.5 L541.0,584.7 L540.0,586.0 L539.0,587.3 L538.0,588.6 L537.0,590.0 L536.0,591.4 L535.0,592.8 L534.0,594.3 L533.0,595.8 L532.0,597.4 L531.0,599.0 L530.0,600.6 L529.0,602.3 L528.0,604.1 L527.0,605.8 L526.0,607.7 L525.0,609.5 L524.0,611.4 L523.0,613.4 L522.0,615.4 L521.0,617.5 L520.0,619.6 L519.0,621.7 L518.0,624.0 L517.0,626.2 L516.0,628.5 L515.0,630.9 L514.0,633.3 L513.0,635.7 L512.0,638.2 L511.0,640.7 L510.0,643.3 L509.0,645.9 L508.0,648.5 L507.0,651.2 L506.0,653.9 L505.0,656.6 L504.0,659.4 L503.0,662.2 L502.0,665.0 L501.0,667.8 L500.0,670.6 L499.0,673.5 L498.0,676.3 L497.0,679.2 L496.0,682.0 L495.0,684.9 L494.0,687.7 L493.0,690.5 L492.0,693.3 L491.0,696.1 L490.0,698.8 L489.0,701.5 L488.0,704.2 L487.0,706.9 L486.0,709.5 L485.0,712.1 L484.0,714.7 L483.0,717.2 L482.0,719.6 L481.0,722.0 L480.0,724.4 L479.0,726.7 L478.0,729.0 L477.0,731.2 L476.0,733.4 L475.0,735.5 L474.0,737.6 L473.0,739.7 L472.0,741.6 L471.0,743.6 L470.0,745.5 L469.0,747.3 L468.0,749.1 L467.0,750.9 L466.0,752.6 L465.0,754.2 L464.0,755.9 L463.0,757.4 L462.0,759.0 L461.0,760.5 L460.0,761.9 L459.0,763.4 L458.0,764.7 L457.0,766.1 L456.0,767.4 L455.0,768.7 L454.0,769.9 L453.0,771.1 L452.0,772.3 L451.0,773.4 L450.0,774.6 L449.0,775.6 L448.0,776.7 L447.0,777.7 L446.0,778.7 L445.0,779.7 L444.0,780.7 L443.0,781.6 L442.0,782.5 L441.0,783.4 L440.0,784.2 L439.0,785.1 L438.0,785.9 L437.0,786.7 L436.0,787.4 L435.0,788.2 L434.0,788.9 L433.0,789.7 L432.0,790.4 L431.0,791.0 L430.0,791.7 L429.0,792.4 L428.0,793.0 L427.0,793.6 L426.0,794.2 L425.0,794.8 L424.0,795.4 L423.0,795.9 L422.0,796.5 L421.0,797.0 L420.0,797.5 L419.0,798.1 L418.0,798.5 L417.0,799.0 L416.0,799.5 L415.0,800.0 L414.0,800.4 L413.0,800.9 L412.0,801.3 L411.0,801.7 L410.0,802.1 L409.0,802.5 L408.0,802.9 L407.0,803.3 L406.0,803.7 L405.0,804.1 L404.0,804.4 L403.0,804.8 L402.0,805.1 L401.0,805.5 L400.0,805.8 L399.0,806.1 L398.0,806.4 L397.0,806.7 L396.0,807.0 L395.0,807.3 L394.0,807.6 L393.0,807.9 L392.0,808.2 L391.0,808.4 L390.0,808.7 L389.0,809.0 L388.0,809.2 L387.0,809.4 L386.0,809.7 L385.0,809.9 L384.0,810.1 L383.0,810.4 L382.0,810.6 L381.0,810.8 L380.0,811.0 L379.0,811.2 L378.0,811.4 L377.0,811.6 L376.0,811.8 L375.0,812.0 L374.0,812.2 L373.0,812.3 L372.0,812.5 L371.0,812.7 L370.0,812.8 L369.0,813.0 L368.0,813.1 L367.0,813.3 L366.0,813.4 L365.0,813.6 L364.0,813.7 L363.0,813.8 L362.0,814.0 L361.0,814.1 L360.0,814.2 L359.0,814.3 L358.0,814.5 L357.0,814.6 L356.0,814.7 L355.0,814.8 L354.0,814.9 L353.0,815.0 L352.0,815.1 L351.0,815.2 L350.0,815.3 L349.0,815.3 L348.0,815.4 L347.0,815.5 L346.0,815.6 L345.0,815.7 L344.0,815.7 L343.0,815.8 L342.0,815.9 L341.0,815.9 L340.0,816.0 L339.0,816.0 L338.0,816.1 L337.0,816.1 L336.0,816.2 L335.0,816.2 L334.0,816.3 L333.0,816.3 L332.0,816.3 L331.0,816.4 L330.0,816.4 L329.0,816.4 L328.0,816.4 L327.0,816.5 L326.0,816.5 L325.0,816.5 L324.0,816.5 L323.0,816.5 L322.0,816.5 L321.0,816.5 L320.0,816.5 L319.0,816.5 L318.0,816.5 L317.0,816.5 L316.0,816.5 L315.0,816.5 L314.0,816.5 L313.0,816.5 L312.0,816.5 L311.0,816.5 L310.0,816.5 L309.0,816.5 L308.0,816.5 L307.0,816.5 L306.0,816.5 L305.0,816.5 L304.0,816.5 L303.0,816.5 L302.0,816.5 L301.0,816.5 L300.0,816.5 L299.0,816.5 L298.0,816.5 L297.0,816.5 L296.0,816.5 L295.0,816.5 L294.0,816.5 L293.0,816.5 L292.0,816.5 L291.0,816.5 L290.0,816.5 L289.0,816.5 L288.0,816.5 L287.0,816.5 L286.0,816.5 L285.0,816.5 L284.0,816.5 L283.0,816.5 L282.0,816.5 L281.0,816.5 L280.0,816.5 L279.0,816.5 L278.0,816.5 L277.0,816.5 L276.0,816.5 L275.0,816.5 L274.0,816.5 L273.0,816.5 L272.0,816.5 L271.0,816.5 L270.0,816.5 L269.0,816.5 L268.0,816.5 L267.0,816.5 L266.0,816.5 L265.0,816.5 L264.0,816.5 L263.0,816.5 L262.0,816.5 L261.0,816.4 L260.0,816.4 L259.0,816.4 L258.0,816.4 L257.0,816.3 L256.0,816.3 L255.0,816.3 L254.0,816.2 L253.0,816.2 L252.0,816.1 L251.0,816.1 L250.0,816.0 L249.0,816.0 L248.0,815.9 L247.0,815.8 L246.0,815.8 L245.0,815.7 L244.0,815.6 L243.0,815.6 L242.0,815.5 L241.0,815.4 L240.0,815.3 L239.0,815.2 L238.0,815.1 L237.0,815.1 L236.0,815.0 L235.0,814.9 L234.0,814.8 L233.0,814.6 L232.0,814.5 L231.0,814.4 L230.0,814.3 L229.0,814.2 L228.0,814.1 L227.0,813.9 L226.0,813.8 L225.0,813.7 L224.0,813.5 L223.0,813.4 L222.0,813.2 L221.0,813.1 L220.0,812.9 L219.0,812.8 L218.0,812.6 L217.0,812.4 L216.0,812.3 L215.0,812.1 L214.0,811.9 L213.0,811.7 L212.0,811.5 L211.0,811.4 L210.0,811.2 L209.0,811.0 L208.0,810.7 L207.0,810.5 L206.0,810.3 L205.0,810.1 L204.0,809.9 L203.0,809.6 L202.0,809.4 L201.0,809.1 L200.0,808.9 L199.0,808.6 L198.0,808.4 L197.0,808.1 L196.0,807.8 L195.0,807.5 L194.0,807.2 L193.0,807.0 L192.0,806.7 L191.0,806.3 L190.0,806.0 L189.0,805.7 L188.0,805.4 L187.0,805.0 L186.0,804.7 L185.0,804.3 L184.0,804.0 L183.0,803.6 L182.0,803.2 L181.0,802.8 L180.0,802.4 L179.0,802.0 L178.0,801.6 L177.0,801.2 L176.0,800.8 L175.0,800.3 L174.0,799.8 L173.0,799.4 L172.0,798.9 L171.0,798.4 L170.0,797.9 L169.0,797.4 L168.0,796.9 L167.0,796.3 L166.0,795.8 L165.0,795.2 L164.0,794.6 L163.0,794.0 L162.0,793.4 L161.0,792.8 L160.0,792.2 L159.0,791.5 L158.0,790.9 L157.0,790.2 L156.0,789.5 L155.0,788.7 L154.0,788.0 L153.0,787.2 L152.0,786.5 L151.0,785.7 L150.0,784.8 L149.0,784.0 L148.0,783.1 L147.0,782.2 L146.0,781.3 L145.0,780.4 L144.0,779.4 L143.0,778.5 L142.0,777.5 L141.0,776.4 L140.0,775.4 L139.0,774.3 L138.0,773.1 L137.0,772.0 L136.0,770.8 L135.0,769.6 L134.0,768.3 L133.0,767.0 L132.0,765.7 L131.0,764.4 L130.0,763.0 L129.0,761.5 L128.0,760.1 L127.0,758.6 L126.0,757.0 L125.0,755.4 L124.0,753.8 L123.0,752.1 L122.0,750.4 L121.0,748.6 L120.0,746.8 L119.0,745.0 L118.0,743.1 L117.0,741.1 L116.0,739.1 L115.0,737.1 L114.0,735.0 L113.0,732.8 L112.0,730.6 L111.0,728.4 L110.0,726.1 L109.0,723.8 L108.0,721.4 L107.0,718.9 L106.0,716.5 L105.0,714.0 L104.0,711.4 L103.0,708.8 L102.0,706.2 L101.0,703.5 L100.0,700.8 L99.0,698.1 L98.0,695.3 L97.0,692.5 L96.0,689.7 L95.0,686.9 L94.0,684.1 L93.0,681.2 L92.0,678.4 L91.0,675.6 L90.0,672.7 L89.0,669.9 L88.0,667.0 L87.0,664.2 L86.0,661.4 L85.0,658.6 L84.0,655.9 L83.0,653.2 L82.0,650.5 L81.0,647.8 L80.0,645.2 L79.0,642.6 L78.0,640.0 L77.0,637.5 L76.0,635.0 L75.0,632.6 L74.0,630.2 L73.0,627.9 L72.0,625.6 L71.0,623.3 L70.0,621.1 L69.0,619.0 L68.0,616.9 L67.0,614.9 L66.0,612.9 L65.0,610.9 L64.0,609.0 L63.0,607.1 L62.0,605.3 L61.0,603.6 L60.0,601.9 L59.0,600.2 L58.0,598.5 L57.0,597.0 L56.0,595.4 L55.0,593.9 L54.0,592.4 L53.0,591.0 L52.0,589.6 L51.0,588.3 L50.0,586.9 L49.0,585.7 L48.0,584.4 L47.0,583.2 L46.0,582.0 L45.0,580.8 L44.0,579.7 L43.0,578.6 L42.0,577.6 L41.0,576.5 L40.0,575.5 L39.0,574.5 L38.0,573.6 L37.0,572.6 L36.0,571.7 L35.0,570.9 L34.0,570.0 L33.0,569.1 L32.0,568.3 L31.0,567.5 L30.0,566.7 L29.0,566.0Z" fill="#d5d5e6"/>
  <g fill="none" stroke="#000" stroke-opacity="0.6" stroke-width="1"><path d="M29.0,566.0 L30.0,566.7 L31.0,567.5 L32.0,568.3 L33.0,569.1 L34.0,570.0 L35.0,570.9 L36.0,571.7 L37.0,572.6 L38.0,573.6 L39.0,574.5 L40.0,575.5 L41.0,576.5 L42.0,577.6 L43.0,578.6 L44.0,579.7 L45.0,580.8 L46.0,582.0 L47.0,583.2 L48.0,584.4 L49.0,585.7 L50.0,586.9 L51.0,588.3 L52.0,589.6 L53.0,591.0 L54.0,592.4 L55.0,593.9 L56.0,595.4 L57.0,597.0 L58.0,598.5 L59.0,600.2 L60.0,601.9 L61.0,603.6 L62.0,605.3 L63.0,607.1 L64.0,609.0 L65.0,610.9 L66.0,612.9 L67.0,614.9 L68.0,616.9 L69.0,619.0 L70.0,621.1 L71.0,623.3 L72.0,625.6 L73.0,627.9 L74.0,630.2 L75.0,632.6 L76.0,635.0 L77.0,637.5 L78.0,640.0 L79.0,642.6 L80.0,645.2 L81.0,647.8 L82.0,650.5 L83.0,653.2 L84.0,655.9 L85.0,658.6 L86.0,661.4 L87.0,664.2 L88.0,667.0 L89.0,669.9 L90.0,672.7 L91.0,675.6 L92.0,678.4 L93.0,681.2 L94.0,684.1 L95.0,686.9 L96.0,689.7 L97.0,692.5 L98.0,695.3 L99.0,698.1 L100.0,700.8 L101.0,703.5 L102.0,706.2 L103.0,708.8 L104.0,711.4 L105.0,714.0 L106.0,716.5 L107.0,718.9 L108.0,721.4 L109.0,723.8 L110.0,726.1 L111.0,728.4 L112.0,730.6 L113.0,732.8 L114.0,735.0 L115.0,737.1 L116.0,739.1 L117.0,741.1 L118.0,743.1 L119.0,745.0 L120.0,746.8 L121.0,748.6 L122.0,750.4 L123.0,752.1 L124.0,753.8 L125.0,755.4 L126.0,757.0 L127.0,758.6 L128.0,760.1 L129.0,761.5 L130.0,763.0 L131.0,764.4 L132.0,765.7 L133.0,767.0 L134.0,768.3 L135.0,769.6 L136.0,770.8 L137.0,772.0 L138.0,773.1 L139.0,774.3 L140.0,775.4 L141.0,776.4 L142.0,777.5 L143.0,778.5 L144.0,779.4 L145.0,780.4 L146.0,781.3 L147.0,782.2 L148.0,783.1 L149.0,784.0 L150.0,784.8 L151.0,785.7 L152.0,786.5 L153.0,787.2 L154.0,788.0 L155.0,788.7 L156.0,789.5 L157.0,790.2 L158.0,790.9 L159.0,791.5 L160.0,792.2 L161.0,792.8 L162.0,793.4 L163.0,794.0 L164.0,794.6 L165.0,795.2 L166.0,795.8 L167.0,796.3 L168.0,796.9 L169.0,797.4 L170.0,797.9 L171.0,798.4 L172.0,798.9 L173.0,799.4 L174.0,799.8 L175.0,800.3 L176.0,800.8 L177.0,801.2 L178.0,801.6 L179.0,802.0 L180.0,802.4 L181.0,802.8 L182.0,803.2 L183.0,803.6 L184.0,804.0 L185.0,804.3 L186.0,804.7 L187.0,805.0 L188.0,805.4 L189.0,805.7 L190.0,806.0 L191.0,806.3 L192.0,806.7 L193.0,807.0 L194.0,807.2 L195.0,807.5 L196.0,807.8 L197.0,808.1 L198.0,808.4 L199.0,808.6 L200.0,808.9 L201.0,809.1 L202.0,809.4 L203.0,809.6 L204.0,809.9 L205.0,810.1 L206.0,810.3 L207.0,810.5 L208.0,810.7 L209.0,811.0 L210.0,811.2 L211.0,811.4 L212.0,811.5 L213.0,811.7 L214.0,811.9 L215.0,812.1 L216.0,812.3 L217.0,812.4 L218.0,812.6 L219.0,812.8 L220.0,812.9 L221.0,813.1 L222.0,813.2 L223.0,813.4 L224.0,813.5 L225.0,813.7 L226.0,813.8 L227.0,813.9 L228.0,814.1 L229.0,814.2 L230.0,814.3 L231.0,814.4 L232.0,814.5 L233.0,814.6 L234.0,814.8 L235.0,814.9 L236.0,815.0 L237.0,815.1 L238.0,815.1 L239.0,815.2 L240.0,815.3 L241.0,815.4 L242.0,815.5 L243.0,815.6 L244.0,815.6 L245.0,815.7 L246.0,815.8 L247.0,815.8 L248.0,815.9 L249.0,816.0 L250.0,816.0 L251.0,816.1 L252.0,816.1 L253.0,816.2 L254.0,816.2 L255.0,816.3 L256.0,816.3 L257.0,816.3 L258.0,816.4 L259.0,816.4 L260.0,816.4 L261.0,816.4 L262.0,816.5 L263.0,816.5 L264.0,816.5 L265.0,816.5 L266.0,816.5 L267.0,816.5 L268.0,816.5 L269.0,816.5 L270.0,816.5 L271.0,816.5 L272.0,816.5 L273.0,816.5 L274.0,816.5 L275.0,816.5 L276.0,816.5 L277.0,816.5 L278.0,816.4 L279.0,816.4 L280.0,816.4 L281.0,816.3 L282.0,816.3 L283.0,816.3 L284.0,816.2 L285.0,816.2 L286.0,816.1 L287.0,816.1 L288.0,816.0 L289.0,816.0 L290.0,815.9 L291.0,815.9 L292.0,815.8 L293.0,815.7 L294.0,815.7 L295.0,815.6 L296.0,815.5 L297.0,815.4 L298.0,815.4 L299.0,815.3 L300.0,815.2 L301.0,815.1 L302.0,815.0 L303.0,814.9 L304.0,814.8 L305.0,814.7 L306.0,814.6 L307.0,814.5 L308.0,814.4 L309.0,814.3 L310.0,814.1 L311.0,814.0 L312.0,813.9 L313.0,813.7 L314.0,813.6 L315.0,813.5 L316.0,813.3 L317.0,813.2 L318.0,813.0 L319.0,812.9 L320.0,812.7 L321.0,812.5 L322.0,812.4 L323.0,812.2 L324.0,812.0 L325.0,811.8 L326.0,811.6 L327.0,811.5 L328.0,811.3 L329.0,811.1 L330.0,810.9 L331.0,810.6 L332.0,810.4 L333.0,810.2 L334.0,810.0 L335.0,809.7 L336.0,809.5 L337.0,809.3 L338.0,809.0 L339.0,808.8 L340.0,808.5 L341.0,808.2 L342.0,808.0 L343.0,807.7 L344.0,807.4 L345.0,807.1 L346.0,806.8 L347.0,806.5 L348.0,806.2 L349.0,805.9 L350.0,805.5 L351.0,805.2 L352.0,804.9 L353.0,804.5 L354.0,804.2 L355.0,803.8 L356.0,803.4 L357.0,803.0 L358.0,802.6 L359.0,802.2 L360.0,801.8 L361.0,801.4 L362.0,801.0 L363.0,800.5 L364.0,800.1 L365.0,799.6 L366.0,799.2 L367.0,798.7 L368.0,798.2 L369.0,797.7 L370.0,797.1 L371.0,796.6 L372.0,796.1 L373.0,795.5 L374.0,794.9 L375.0,794.4 L376.0,793.8 L377.0,793.1 L378.0,792.5 L379.0,791.9 L380.0,791.2 L381.0,790.5 L382.0,789.8 L383.0,789.1 L384.0,788.4 L385.0,787.6 L386.0,786.9 L387.0,786.1 L388.0,785.3 L389.0,784.4 L390.0,783.6 L391.0,782.7 L392.0,781.8 L393.0,780.9 L394.0,779.9 L395.0,779.0 L396.0,778.0 L397.0,777.0 L398.0,775.9 L399.0,774.8 L400.0,773.7 L401.0,772.6 L402.0,771.4 L403.0,770.2 L404.0,769.0 L405.0,767.7 L406.0,766.4 L407.0,765.1 L408.0,763.7 L409.0,762.3 L410.0,760.8 L411.0,759.4 L412.0,757.8 L413.0,756.3 L414.0,754.6 L415.0,753.0 L416.0,751.3 L417.0,749.6 L418.0,747.8 L419.0,745.9 L420.0,744.1 L421.0,742.1 L422.0,740.1 L423.0,738.1 L424.0,736.1 L425.0,733.9 L426.0,731.8 L427.0,729.5 L428.0,727.3 L429.0,725.0 L430.0,722.6 L431.0,720.2 L432.0,717.8 L433.0,715.3 L434.0,712.7 L435.0,710.1 L436.0,707.5 L437.0,704.9 L438.0,702.2 L439.0,699.5 L440.0,696.7 L441.0,694.0 L442.0,691.2 L443.0,688.4 L444.0,685.6 L445.0,682.7 L446.0,679.9 L447.0,677.0 L448.0,674.2 L449.0,671.3 L450.0,668.5 L451.0,665.7 L452.0,662.9 L453.0,660.1 L454.0,657.3 L455.0,654.6 L456.0,651.8 L457.0,649.2 L458.0,646.5 L459.0,643.9 L460.0,641.3 L461.0,638.8 L462.0,636.3 L463.0,633.8 L464.0,631.4 L465.0,629.1 L466.0,626.8 L467.0,624.5 L468.0,622.3 L469.0,620.1 L470.0,618.0 L471.0,615.9 L472.0,613.9 L473.0,611.9 L474.0,610.0 L475.0,608.1 L476.0,606.3 L477.0,604.5 L478.0,602.7 L479.0,601.0 L480.0,599.4 L481.0,597.8 L482.0,596.2 L483.0,594.7 L484.0,593.2 L485.0,591.7 L486.0,590.3 L487.0,588.9 L488.0,587.6 L489.0,586.3 L490.0,585.0 L491.0,583.8 L492.0,582.6 L493.0,581.4 L494.0,580.3 L495.0,579.2 L496.0,578.1 L497.0,577.1 L498.0,576.0 L499.0,575.0 L500.0,574.1 L501.0,573.1 L502.0,572.2 L503.0,571.3 L504.0,570.4 L505.0,569.6 L506.0,568.7 L507.0,567.9 L508.0,567.2 L509.0,566.4 L510.0,565.6 L511.0,564.9 L512.0,564.2 L513.0,563.5 L514.0,562.8 L515.0,562.1 L516.0,561.5 L517.0,560.9 L518.0,560.3 L519.0,559.7 L520.0,559.1 L521.0,558.5 L522.0,557.9 L523.0,557.4 L524.0,556.9 L525.0,556.3 L526.0,555.8 L527.0,555.3 L528.0,554.9 L529.0,554.4 L530.0,553.9 L531.0,553.5 L532.0,553.0 L533.0,552.6 L534.0,552.2 L535.0,551.8 L536.0,551.4 L537.0,551.0 L538.0,550.6 L539.0,550.2 L540.0,549.8 L541.0,549.5 L542.0,549.1 L543.0,548.8 L544.0,548.5 L545.0,548.1 L546.0,547.8 L547.0,547.5 L548.0,547.2 L549.0,546.9 L550.0,546.6 L551.0,546.3 L552.0,546.0 L553.0,545.8 L554.0,545.5 L555.0,545.2 L556.0,545.0 L557.0,544.7 L558.0,544.5 L559.0,544.3 L560.0,544.0 L561.0,543.8 L562.0,543.6 L563.0,543.4 L564.0,543.2 L565.0,542.9 L566.0,542.7 L567.0,542.5 L568.0,542.4 L569.0,542.2 L570.0,542.0 L571.0,541.8 L572.0,541.6 L573.0,541.5 L574.0,541.3 L575.0,541.1 L576.0,541.0 L577.0,540.8 L578.0,540.7 L579.0,540.5 L580.0,540.4 L581.0,540.3 L582.0,540.1 L583.0,540.0 L584.0,539.9 L585.0,539.8 L586.0,539.6 L587.0,539.5 L588.0,539.4 L589.0,539.3 L590.0,539.2 L591.0,539.1 L592.0,539.0 L593.0,538.9 L594.0,538.8 L595.0,538.7 L596.0,538.6 L597.0,538.6 L598.0,538.5 L599.0,538.4 L600.0,538.3 L601.0,538.3 L602.0,538.2 L603.0,538.1 L604.0,538.1 L605.0,538.0 L606.0,538.0 L607.0,537.9 L608.0,537.9 L609.0,537.8 L610.0,537.8 L611.0,537.7 L612.0,537.7 L613.0,537.7 L614.0,537.6 L615.0,537.6 L616.0,537.6 L617.0,537.5 L618.0,537.5 L619.0,537.5 L620.0,537.5 L621.0,537.5 L622.0,537.5 L623.0,537.5 L624.0,537.5 L625.0,537.5 L626.0,537.5 L627.0,537.5 L628.0,537.5 L629.0,537.5 L630.0,537.5 L631.0,537.5 L632.0,537.5 L633.0,537.6 L634.0,537.6 L635.0,537.6 L636.0,537.6 L637.0,537.7 L638.0,537.7 L639.0,537.7 L640.0,537.8 L641.0,537.8 L642.0,537.9 L643.0,537.9 L644.0,538.0 L645.0,538.0 L646.0,538.1 L647.0,538.2 L648.0,538.2 L649.0,538.3 L650.0,538.4 L651.0,538.4 L652.0,538.5 L653.0,538.6 L654.0,538.7 L655.0,538.8 L656.0,538.9 L657.0,538.9 L658.0,539.0 L659.0,539.1 L660.0,539.2 L661.0,539.4 L662.0,539.5 L663.0,539.6 L664.0,539.7 L665.0,539.8 L666.0,539.9 L667.0,540.1 L668.0,540.2 L669.0,540.3 L670.0,540.5 L671.0,540.6 L672.0,540.8 L673.0,540.9 L674.0,541.1 L675.0,541.2 L676.0,541.4 L677.0,541.5 L678.0,541.7 L679.0,541.9 L680.0,542.1 L681.0,542.3 L682.0,542.4 L683.0,542.6 L684.0,542.8 L685.0,543.0 L686.0,543.3 L687.0,543.5 L688.0,543.7 L689.0,543.9 L690.0,544.1 L691.0,544.4 L692.0,544.6 L693.0,544.9 L694.0,545.1 L695.0,545.4 L696.0,545.6 L697.0,545.9 L698.0,546.2 L699.0,546.5 L700.0,546.7 L701.0,547.0 L702.0,547.3 L703.0,547.7 L704.0,548.0 L705.0,548.3 L706.0,548.6 L707.0,549.0 L708.0,549.3 L709.0,549.7 L710.0,550.0 L711.0,550.4 L712.0,550.8 L713.0,551.2 L714.0,551.6 L715.0,552.0 L716.0,552.4 L717.0,552.8 L718.0,553.2 L719.0,553.7 L720.0,554.1 L721.0,554.6 L722.0,555.1 L723.0,555.6 L724.0,556.1 L725.0,556.6 L726.0,557.1 L727.0,557.7 L728.0,558.2 L729.0,558.8 L730.0,559.4 L731.0,559.9 L732.0,560.6 L733.0,561.2 L734.0,561.8 L735.0,562.5 L736.0,563.1 L737.0,563.8 L738.0,564.5 L739.0,565.2 L740.0,566.0"/><path d="M29.0,544.0 L30.0,544.2 L31.0,544.4 L32.0,544.7 L33.0,544.9 L34.0,545.2 L35.0,545.4 L36.0,545.7 L37.0,546.0 L38.0,546.2 L39.0,546.5 L40.0,546.8 L41.0,547.1 L42.0,547.4 L43.0,547.7 L44.0,548.0 L45.0,548.4 L46.0,548.7 L47.0,549.0 L48.0,549.4 L49.0,549.7 L50.0,550.1 L51.0,550.5 L52.0,550.9 L53.0,551.3 L54.0,551.7 L55.0,552.1 L56.0,552.5 L57.0,552.9 L58.0,553.3 L59.0,553.8 L60.0,554.3 L61.0,554.7 L62.0,555.2 L63.0,555.7 L64.0,556.2 L65.0,556.7 L66.0,557.2 L67.0,557.8 L68.0,558.3 L69.0,558.9 L70.0,559.5 L71.0,560.1 L72.0,560.7 L73.0,561.3 L74.0,562.0 L75.0,562.6 L76.0,563.3 L77.0,564.0 L78.0,564.7 L79.0,565.4 L80.0,566.2 L81.0,566.9 L82.0,567.7 L83.0,568.5 L84.0,569.3 L85.0,570.2 L86.0,571.1 L87.0,572.0 L88.0,572.9 L89.0,573.8 L90.0,574.8 L91.0,575.8 L92.0,576.8 L93.0,577.8 L94.0,578.9 L95.0,580.0 L96.0,581.1 L97.0,582.3 L98.0,583.5 L99.0,584.7 L100.0,586.0 L101.0,587.3 L102.0,588.6 L103.0,589.9 L104.0,591.3 L105.0,592.8 L106.0,594.3 L107.0,595.8 L108.0,597.3 L109.0,598.9 L110.0,600.6 L111.0,602.3 L112.0,604.0 L113.0,605.8 L114.0,607.6 L115.0,609.5 L116.0,611.4 L117.0,613.3 L118.0,615.4 L119.0,617.4 L120.0,619.5 L121.0,621.7 L122.0,623.9 L123.0,626.1 L124.0,628.4 L125.0,630.8 L126.0,633.2 L127.0,635.6 L128.0,638.1 L129.0,640.6 L130.0,643.2 L131.0,645.8 L132.0,648.4 L133.0,651.1 L134.0,653.8 L135.0,656.5 L136.0,659.3 L137.0,662.1 L138.0,664.9 L139.0,667.7 L140.0,670.6 L141.0,673.4 L142.0,676.2 L143.0,679.1 L144.0,681.9 L145.0,684.8 L146.0,687.6 L147.0,690.4 L148.0,693.2 L149.0,696.0 L150.0,698.7 L151.0,701.5 L152.0,704.2 L153.0,706.8 L154.0,709.4 L155.0,712.0 L156.0,714.6 L157.0,717.1 L158.0,719.5 L159.0,722.0 L160.0,724.3 L161.0,726.7 L162.0,728.9 L163.0,731.2 L164.0,733.3 L165.0,735.5 L166.0,737.6 L167.0,739.6 L168.0,741.6 L169.0,743.5 L170.0,745.4 L171.0,747.3 L172.0,749.1 L173.0,750.8 L174.0,752.5 L175.0,754.2 L176.0,755.8 L177.0,757.4 L178.0,758.9 L179.0,760.4 L180.0,761.9 L181.0,763.3 L182.0,764.7 L183.0,766.0 L184.0,767.4 L185.0,768.6 L186.0,769.9 L187.0,771.1 L188.0,772.3 L189.0,773.4 L190.0,774.5 L191.0,775.6 L192.0,776.7 L193.0,777.7 L194.0,778.7 L195.0,779.7 L196.0,780.6 L197.0,781.6 L198.0,782.5 L199.0,783.3 L200.0,784.2 L201.0,785.0 L202.0,785.9 L203.0,786.6 L204.0,787.4 L205.0,788.2 L206.0,788.9 L207.0,789.6 L208.0,790.3 L209.0,791.0 L210.0,791.7 L211.0,792.3 L212.0,793.0 L213.0,793.6 L214.0,794.2 L215.0,794.8 L216.0,795.4 L217.0,795.9 L218.0,796.5 L219.0,797.0 L220.0,797.5 L221.0,798.0 L222.0,798.5 L223.0,799.0 L224.0,799.5 L225.0,800.0 L226.0,800.4 L227.0,800.9 L228.0,801.3 L229.0,801.7 L230.0,802.1 L231.0,802.5 L232.0,802.9 L233.0,803.3 L234.0,803.7 L235.0,804.1 L236.0,804.4 L237.0,804.8 L238.0,805.1 L239.0,805.5 L240.0,805.8 L241.0,806.1 L242.0,806.4 L243.0,806.7 L244.0,807.0 L245.0,807.3 L246.0,807.6 L247.0,807.9 L248.0,808.2 L249.0,808.4 L250.0,808.7 L251.0,808.9 L252.0,809.2 L253.0,809.4 L254.0,809.7 L255.0,809.9 L256.0,810.1 L257.0,810.4 L258.0,810.6 L259.0,810.8 L260.0,811.0 L261.0,811.2 L262.0,811.4 L263.0,811.6 L264.0,811.8 L265.0,812.0 L266.0,812.1 L267.0,812.3 L268.0,812.5 L269.0,812.7 L270.0,812.8 L271.0,813.0 L272.0,813.1 L273.0,813.3 L274.0,813.4 L275.0,813.6 L276.0,813.7 L277.0,813.8 L278.0,814.0 L279.0,814.1 L280.0,814.2 L281.0,814.3 L282.0,814.5 L283.0,814.6 L284.0,814.7 L285.0,814.8 L286.0,814.9 L287.0,815.0 L288.0,815.1 L289.0,815.2 L290.0,815.3 L291.0,815.3 L292.0,815.4 L293.0,815.5 L294.0,815.6 L295.0,815.7 L296.0,815.7 L297.0,815.8 L298.0,815.9 L299.0,815.9 L300.0,816.0 L301.0,816.0 L302.0,816.1 L303.0,816.1 L304.0,816.2 L305.0,816.2 L306.0,816.3 L307.0,816.3 L308.0,816.3 L309.0,816.4 L310.0,816.4 L311.0,816.4 L312.0,816.4 L313.0,816.5 L314.0,816.5 L315.0,816.5 L316.0,816.5 L317.0,816.5 L318.0,816.5 L319.0,816.5 L320.0,816.5 L321.0,816.5 L322.0,816.5 L323.0,816.5 L324.0,816.5 L325.0,816.5 L326.0,816.5 L327.0,816.5 L328.0,816.4 L329.0,816.4 L330.0,816.4 L331.0,816.4 L332.0,816.3 L333.0,816.3 L334.0,816.3 L335.0,816.2 L336.0,816.2 L337.0,816.1 L338.0,816.1 L339.0,816.0 L340.0,816.0 L341.0,815.9 L342.0,815.9 L343.0,815.8 L344.0,815.7 L345.0,815.7 L346.0,815.6 L347.0,815.5 L348.0,815.4 L349.0,815.3 L350.0,815.3 L351.0,815.2 L352.0,815.1 L353.0,815.0 L354.0,814.9 L355.0,814.8 L356.0,814.7 L357.0,814.6 L358.0,814.5 L359.0,814.3 L360.0,814.2 L361.0,814.1 L362.0,814.0 L363.0,813.8 L364.0,813.7 L365.0,813.6 L366.0,813.4 L367.0,813.3 L368.0,813.1 L369.0,813.0 L370.0,812.8 L371.0,812.7 L372.0,812.5 L373.0,812.3 L374.0,812.2 L375.0,812.0 L376.0,811.8 L377.0,811.6 L378.0,811.4 L379.0,811.2 L380.0,811.0 L381.0,810.8 L382.0,810.6 L383.0,810.4 L384.0,810.1 L385.0,809.9 L386.0,809.7 L387.0,809.4 L388.0,809.2 L389.0,809.0 L390.0,808.7 L391.0,808.4 L392.0,808.2 L393.0,807.9 L394.0,807.6 L395.0,807.3 L396.0,807.0 L397.0,806.7 L398.0,806.4 L399.0,806.1 L400.0,805.8 L401.0,805.5 L402.0,805.1 L403.0,804.8 L404.0,804.4 L405.0,804.1 L406.0,803.7 L407.0,803.3 L408.0,802.9 L409.0,802.5 L410.0,802.1 L411.0,801.7 L412.0,801.3 L413.0,800.9 L414.0,800.4 L415.0,800.0 L416.0,799.5 L417.0,799.0 L418.0,798.5 L419.0,798.1 L420.0,797.5 L421.0,797.0 L422.0,796.5 L423.0,795.9 L424.0,795.4 L425.0,794.8 L426.0,794.2 L427.0,793.6 L428.0,793.0 L429.0,792.4 L430.0,791.7 L431.0,791.0 L432.0,790.4 L433.0,789.7 L434.0,788.9 L435.0,788.2 L436.0,787.4 L437.0,786.7 L438.0,785.9 L439.0,785.1 L440.0,784.2 L441.0,783.4 L442.0,782.5 L443.0,781.6 L444.0,780.7 L445.0,779.7 L446.0,778.7 L447.0,777.7 L448.0,776.7 L449.0,775.6 L450.0,774.6 L451.0,773.4 L452.0,772.3 L453.0,771.1 L454.0,769.9 L455.0,768.7 L456.0,767.4 L457.0,766.1 L458.0,764.7 L459.0,763.4 L460.0,761.9 L461.0,760.5 L462.0,759.0 L463.0,757.4 L464.0,755.9 L465.0,754.2 L466.0,752.6 L467.0,750.9 L468.0,749.1 L469.0,747.3 L470.0,745.5 L471.0,743.6 L472.0,741.6 L473.0,739.7 L474.0,737.6 L475.0,735.5 L476.0,733.4 L477.0,731.2 L478.0,729.0 L479.0,726.7 L480.0,724.4 L481.0,722.0 L482.0,719.6 L483.0,717.2 L484.0,714.7 L485.0,712.1 L486.0,709.5 L487.0,706.9 L488.0,704.2 L489.0,701.5 L490.0,698.8 L491.0,696.1 L492.0,693.3 L493.0,690.5 L494.0,687.7 L495.0,684.9 L496.0,682.0 L497.0,679.2 L498.0,676.3 L499.0,673.5 L500.0,670.6 L501.0,667.8 L502.0,665.0 L503.0,662.2 L504.0,659.4 L505.0,656.6 L506.0,653.9 L507.0,651.2 L508.0,648.5 L509.0,645.9 L510.0,643.3 L511.0,640.7 L512.0,638.2 L513.0,635.7 L514.0,633.3 L515.0,630.9 L516.0,628.5 L517.0,626.2 L518.0,624.0 L519.0,621.7 L520.0,619.6 L521.0,617.5 L522.0,615.4 L523.0,613.4 L524.0,611.4 L525.0,609.5 L526.0,607.7 L527.0,605.8 L528.0,604.1 L529.0,602.3 L530.0,600.6 L531.0,599.0 L532.0,597.4 L533.0,595.8 L534.0,594.3 L535.0,592.8 L536.0,591.4 L537.0,590.0 L538.0,588.6 L539.0,587.3 L540.0,586.0 L541.0,584.7 L542.0,583.5 L543.0,582.3 L544.0,581.2 L545.0,580.0 L546.0,578.9 L547.0,577.9 L548.0,576.8 L549.0,575.8 L550.0,574.8 L551.0,573.8 L552.0,572.9 L553.0,572.0 L554.0,571.1 L555.0,570.2 L556.0,569.4 L557.0,568.6 L558.0,567.7 L559.0,567.0 L560.0,566.2 L561.0,565.5 L562.0,564.7 L563.0,564.0 L564.0,563.3 L565.0,562.6 L566.0,562.0 L567.0,561.3 L568.0,560.7 L569.0,560.1 L570.0,559.5 L571.0,558.9 L572.0,558.4 L573.0,557.8 L574.0,557.3 L575.0,556.7 L576.0,556.2 L577.0,555.7 L578.0,555.2 L579.0,554.7 L580.0,554.3 L581.0,553.8 L582.0,553.4 L583.0,552.9 L584.0,552.5 L585.0,552.1 L586.0,551.7 L587.0,551.3 L588.0,550.9 L589.0,550.5 L590.0,550.1 L591.0,549.8 L592.0,549.4 L593.0,549.1 L594.0,548.7 L595.0,548.4 L596.0,548.1 L597.0,547.7 L598.0,547.4 L599.0,547.1 L600.0,546.8 L601.0,546.5 L602.0,546.3 L603.0,546.0 L604.0,545.7 L605.0,545.4 L606.0,545.2 L607.0,544.9 L608.0,544.7 L609.0,544.4 L610.0,544.2 L611.0,544.0 L612.0,543.7 L613.0,543.5 L614.0,543.3 L615.0,543.1 L616.0,542.9 L617.0,542.7 L618.0,542.5 L619.0,542.3 L620.0,542.1 L621.0,541.9 L622.0,541.8 L623.0,541.6 L624.0,541.4 L625.0,541.3 L626.0,541.1 L627.0,540.9 L628.0,540.8 L629.0,540.6 L630.0,540.5 L631.0,540.4 L632.0,540.2 L633.0,540.1 L634.0,540.0 L635.0,539.8 L636.0,539.7 L637.0,539.6 L638.0,539.5 L639.0,539.4 L640.0,539.3 L641.0,539.2 L642.0,539.1 L643.0,539.0 L644.0,538.9 L645.0,538.8 L646.0,538.7 L647.0,538.6 L648.0,538.5 L649.0,538.5 L650.0,538.4 L651.0,538.3 L652.0,538.2 L653.0,538.2 L654.0,538.1 L655.0,538.1 L656.0,538.0 L657.0,537.9 L658.0,537.9 L659.0,537.8 L660.0,537.8 L661.0,537.8 L662.0,537.7 L663.0,537.7 L664.0,537.7 L665.0,537.6 L666.0,537.6 L667.0,537.6 L668.0,537.5 L669.0,537.5 L670.0,537.5 L671.0,537.5 L672.0,537.5 L673.0,537.5 L674.0,537.5 L675.0,537.5 L676.0,537.5 L677.0,537.5 L678.0,537.5 L679.0,537.5 L680.0,537.5 L681.0,537.5 L682.0,537.5 L683.0,537.5 L684.0,537.6 L685.0,537.6 L686.0,537.6 L687.0,537.6 L688.0,537.7 L689.0,537.7 L690.0,537.8 L691.0,537.8 L692.0,537.8 L693.0,537.9 L694.0,537.9 L695.0,538.0 L696.0,538.1 L697.0,538.1 L698.0,538.2 L699.0,538.2 L700.0,538.3 L701.0,538.4 L702.0,538.5 L703.0,538.5 L704.0,538.6 L705.0,538.7 L706.0,538.8 L707.0,538.9 L708.0,539.0 L709.0,539.1 L710.0,539.2 L711.0,539.3 L712.0,539.4 L713.0,539.5 L714.0,539.6 L715.0,539.7 L716.0,539.8 L717.0,540.0 L718.0,540.1 L719.0,540.2 L720.0,540.4 L721.0,540.5 L722.0,540.6 L723.0,540.8 L724.0,540.9 L725.0,541.1 L726.0,541.3 L727.0,541.4 L728.0,541.6 L729.0,541.8 L730.0,541.9 L731.0,542.1 L732.0,542.3 L733.0,542.5 L734.0,542.7 L735.0,542.9 L736.0,543.1 L737.0,543.3 L738.0,543.5 L739.0,543.7 L740.0,544.0"/></g>
  <path d="M29.0,519.0 L740.0,519.0 L740.0,544.0 L739.0,543.7 L738.0,543.5 L737.0,543.3 L736.0,543.1 L735.0,542.9 L734.0,542.7 L733.0,542.5 L732.0,542.3 L731.0,542.1 L730.0,541.9 L729.0,541.8 L728.0,541.6 L727.0,541.4 L726.0,541.3 L725.0,541.1 L724.0,540.9 L723.0,540.8 L722.0,540.6 L721.0,540.5 L720.0,540.4 L719.0,540.2 L718.0,540.1 L717.0,540.0 L716.0,539.8 L715.0,539.7 L714.0,539.6 L713.0,539.5 L712.0,539.4 L711.0,539.3 L710.0,539.2 L709.0,539.1 L708.0,539.0 L707.0,538.9 L706.0,538.8 L705.0,538.7 L704.0,538.6 L703.0,538.5 L702.0,538.5 L701.0,538.4 L700.0,538.3 L699.0,538.2 L698.0,538.2 L697.0,538.1 L696.0,538.1 L695.0,538.0 L694.0,537.9 L693.0,537.9 L692.0,537.8 L691.0,537.8 L690.0,537.8 L689.0,537.7 L688.0,537.7 L687.0,537.6 L686.0,537.6 L685.0,537.6 L684.0,537.6 L683.0,537.5 L682.0,537.5 L681.0,537.5 L680.0,537.5 L679.0,537.5 L678.0,537.5 L677.0,537.5 L676.0,537.5 L675.0,537.5 L674.0,537.5 L673.0,537.5 L672.0,537.5 L671.0,537.5 L670.0,537.5 L669.0,537.5 L668.0,537.5 L667.0,537.5 L666.0,537.5 L665.0,537.5 L664.0,537.5 L663.0,537.5 L662.0,537.5 L661.0,537.5 L660.0,537.5 L659.0,537.5 L658.0,537.5 L657.0,537.5 L656.0,537.5 L655.0,537.5 L654.0,537.5 L653.0,537.5 L652.0,537.5 L651.0,537.5 L650.0,537.5 L649.0,537.5 L648.0,537.5 L647.0,537.5 L646.0,537.5 L645.0,537.5 L644.0,537.5 L643.0,537.5 L642.0,537.5 L641.0,537.5 L640.0,537.5 L639.0,537.5 L638.0,537.5 L637.0,537.5 L636.0,537.5 L635.0,537.5 L634.0,537.5 L633.0,537.5 L632.0,537.5 L631.0,537.5 L630.0,537.5 L629.0,537.5 L628.0,537.5 L627.0,537.5 L626.0,537.5 L625.0,537.5 L624.0,537.5 L623.0,537.5 L622.0,537.5 L621.0,537.5 L620.0,537.5 L619.0,537.5 L618.0,537.5 L617.0,537.5 L616.0,537.6 L615.0,537.6 L614.0,537.6 L613.0,537.7 L612.0,537.7 L611.0,537.7 L610.0,537.8 L609.0,537.8 L608.0,537.9 L607.0,537.9 L606.0,538.0 L605.0,538.0 L604.0,538.1 L603.0,538.1 L602.0,538.2 L601.0,538.3 L600.0,538.3 L599.0,538.4 L598.0,538.5 L597.0,538.6 L596.0,538.6 L595.0,538.7 L594.0,538.8 L593.0,538.9 L592.0,539.0 L591.0,539.1 L590.0,539.2 L589.0,539.3 L588.0,539.4 L587.0,539.5 L586.0,539.6 L585.0,539.8 L584.0,539.9 L583.0,540.0 L582.0,540.1 L581.0,540.3 L580.0,540.4 L579.0,540.5 L578.0,540.7 L577.0,540.8 L576.0,541.0 L575.0,541.1 L574.0,541.3 L573.0,541.5 L572.0,541.6 L571.0,541.8 L570.0,542.0 L569.0,542.2 L568.0,542.4 L567.0,542.5 L566.0,542.7 L565.0,542.9 L564.0,543.2 L563.0,543.4 L562.0,543.6 L561.0,543.8 L560.0,544.0 L559.0,544.3 L558.0,544.5 L557.0,544.7 L556.0,545.0 L555.0,545.2 L554.0,545.5 L553.0,545.8 L552.0,546.0 L551.0,546.3 L550.0,546.6 L549.0,546.9 L548.0,547.2 L547.0,547.5 L546.0,547.8 L545.0,548.1 L544.0,548.5 L543.0,548.8 L542.0,549.1 L541.0,549.5 L540.0,549.8 L539.0,550.2 L538.0,550.6 L537.0,551.0 L536.0,551.4 L535.0,551.8 L534.0,552.2 L533.0,552.6 L532.0,553.0 L531.0,553.5 L530.0,553.9 L529.0,554.4 L528.0,554.9 L527.0,555.3 L526.0,555.8 L525.0,556.3 L524.0,556.9 L523.0,557.4 L522.0,557.9 L521.0,558.5 L520.0,559.1 L519.0,559.7 L518.0,560.3 L517.0,560.9 L516.0,561.5 L515.0,562.1 L514.0,562.8 L513.0,563.5 L512.0,564.2 L511.0,564.9 L510.0,565.6 L509.0,566.4 L508.0,567.2 L507.0,567.9 L506.0,568.7 L505.0,569.6 L504.0,570.4 L503.0,571.3 L502.0,572.2 L501.0,573.1 L500.0,574.1 L499.0,575.0 L498.0,576.0 L497.0,577.1 L496.0,578.1 L495.0,579.2 L494.0,580.3 L493.0,581.4 L492.0,582.6 L491.0,583.8 L490.0,585.0 L489.0,586.3 L488.0,587.6 L487.0,588.9 L486.0,590.3 L485.0,591.7 L484.0,593.2 L483.0,594.7 L482.0,596.2 L481.0,597.8 L480.0,599.4 L479.0,601.0 L478.0,602.7 L477.0,604.5 L476.0,606.3 L475.0,608.1 L474.0,610.0 L473.0,611.9 L472.0,613.9 L471.0,615.9 L470.0,618.0 L469.0,620.1 L468.0,622.3 L467.0,624.5 L466.0,626.8 L465.0,629.1 L464.0,631.4 L463.0,633.8 L462.0,636.3 L461.0,638.8 L460.0,641.3 L459.0,643.9 L458.0,646.5 L457.0,649.2 L456.0,651.8 L455.0,654.6 L454.0,657.3 L453.0,660.1 L452.0,662.9 L451.0,665.7 L450.0,668.5 L449.0,671.3 L448.0,674.2 L447.0,677.0 L446.0,679.9 L445.0,682.7 L444.0,685.6 L443.0,688.4 L442.0,691.2 L441.0,694.0 L440.0,696.7 L439.0,699.5 L438.0,702.2 L437.0,704.9 L436.0,707.5 L435.0,710.1 L434.0,712.7 L433.0,715.3 L432.0,717.8 L431.0,720.2 L430.0,722.6 L429.0,725.0 L428.0,727.3 L427.0,729.5 L426.0,731.8 L425.0,733.9 L424.0,736.1 L423.0,738.1 L422.0,740.1 L421.0,742.1 L420.0,744.1 L419.0,745.9 L418.0,747.8 L417.0,749.6 L416.0,751.3 L415.0,753.0 L414.0,754.6 L413.0,756.3 L412.0,757.8 L411.0,759.4 L410.0,760.8 L409.0,762.3 L408.0,763.7 L407.0,765.1 L406.0,766.4 L405.0,767.7 L404.0,769.0 L403.0,770.2 L402.0,771.4 L401.0,772.6 L400.0,773.7 L399.0,774.8 L398.0,775.9 L397.0,777.0 L396.0,778.0 L395.0,779.0 L394.0,779.9 L393.0,780.9 L392.0,781.8 L391.0,782.7 L390.0,783.6 L389.0,784.4 L388.0,785.3 L387.0,786.1 L386.0,786.9 L385.0,787.6 L384.0,788.4 L383.0,789.1 L382.0,789.8 L381.0,790.5 L380.0,791.2 L379.0,791.9 L378.0,792.5 L377.0,793.1 L376.0,793.8 L375.0,794.4 L374.0,794.9 L373.0,795.5 L372.0,796.1 L371.0,796.6 L370.0,797.1 L369.0,797.7 L368.0,798.2 L367.0,798.7 L366.0,799.2 L365.0,799.6 L364.0,800.1 L363.0,800.5 L362.0,801.0 L361.0,801.4 L360.0,801.8 L359.0,802.2 L358.0,802.6 L357.0,803.0 L356.0,803.4 L355.0,803.8 L354.0,804.2 L353.0,804.5 L352.0,804.9 L351.0,805.2 L350.0,805.5 L349.0,805.9 L348.0,806.2 L347.0,806.5 L346.0,806.8 L345.0,807.1 L344.0,807.4 L343.0,807.7 L342.0,808.0 L341.0,808.2 L340.0,808.5 L339.0,808.8 L338.0,809.0 L337.0,809.3 L336.0,809.5 L335.0,809.7 L334.0,810.0 L333.0,810.2 L332.0,810.4 L331.0,810.6 L330.0,810.9 L329.0,811.1 L328.0,811.3 L327.0,811.5 L326.0,811.6 L325.0,811.8 L324.0,812.0 L323.0,812.2 L322.0,812.4 L321.0,812.5 L320.0,812.7 L319.0,812.9 L318.0,813.0 L317.0,813.2 L316.0,813.3 L315.0,813.5 L314.0,813.6 L313.0,813.7 L312.0,813.9 L311.0,814.0 L310.0,814.1 L309.0,814.3 L308.0,814.4 L307.0,814.5 L306.0,814.6 L305.0,814.7 L304.0,814.8 L303.0,814.9 L302.0,815.0 L301.0,815.1 L300.0,815.2 L299.0,815.3 L298.0,815.4 L297.0,815.4 L296.0,815.5 L295.0,815.6 L294.0,815.6 L293.0,815.5 L292.0,815.4 L291.0,815.3 L290.0,815.3 L289.0,815.2 L288.0,815.1 L287.0,815.0 L286.0,814.9 L285.0,814.8 L284.0,814.7 L283.0,814.6 L282.0,814.5 L281.0,814.3 L280.0,814.2 L279.0,814.1 L278.0,814.0 L277.0,813.8 L276.0,813.7 L275.0,813.6 L274.0,813.4 L273.0,813.3 L272.0,813.1 L271.0,813.0 L270.0,812.8 L269.0,812.7 L268.0,812.5 L267.0,812.3 L266.0,812.1 L265.0,812.0 L264.0,811.8 L263.0,811.6 L262.0,811.4 L261.0,811.2 L260.0,811.0 L259.0,810.8 L258.0,810.6 L257.0,810.4 L256.0,810.1 L255.0,809.9 L254.0,809.7 L253.0,809.4 L252.0,809.2 L251.0,808.9 L250.0,808.7 L249.0,808.4 L248.0,808.2 L247.0,807.9 L246.0,807.6 L245.0,807.3 L244.0,807.0 L243.0,806.7 L242.0,806.4 L241.0,806.1 L240.0,805.8 L239.0,805.5 L238.0,805.1 L237.0,804.8 L236.0,804.4 L235.0,804.1 L234.0,803.7 L233.0,803.3 L232.0,802.9 L231.0,802.5 L230.0,802.1 L229.0,801.7 L228.0,801.3 L227.0,800.9 L226.0,800.4 L225.0,800.0 L224.0,799.5 L223.0,799.0 L222.0,798.5 L221.0,798.0 L220.0,797.5 L219.0,797.0 L218.0,796.5 L217.0,795.9 L216.0,795.4 L215.0,794.8 L214.0,794.2 L213.0,793.6 L212.0,793.0 L211.0,792.3 L210.0,791.7 L209.0,791.0 L208.0,790.3 L207.0,789.6 L206.0,788.9 L205.0,788.2 L204.0,787.4 L203.0,786.6 L202.0,785.9 L201.0,785.0 L200.0,784.2 L199.0,783.3 L198.0,782.5 L197.0,781.6 L196.0,780.6 L195.0,779.7 L194.0,778.7 L193.0,777.7 L192.0,776.7 L191.0,775.6 L190.0,774.5 L189.0,773.4 L188.0,772.3 L187.0,771.1 L186.0,769.9 L185.0,768.6 L184.0,767.4 L183.0,766.0 L182.0,764.7 L181.0,763.3 L180.0,761.9 L179.0,760.4 L178.0,758.9 L177.0,757.4 L176.0,755.8 L175.0,754.2 L174.0,752.5 L173.0,750.8 L172.0,749.1 L171.0,747.3 L170.0,745.4 L169.0,743.5 L168.0,741.6 L167.0,739.6 L166.0,737.6 L165.0,735.5 L164.0,733.3 L163.0,731.2 L162.0,728.9 L161.0,726.7 L160.0,724.3 L159.0,722.0 L158.0,719.5 L157.0,717.1 L156.0,714.6 L155.0,712.0 L154.0,709.4 L153.0,706.8 L152.0,704.2 L151.0,701.5 L150.0,698.7 L149.0,696.0 L148.0,693.2 L147.0,690.4 L146.0,687.6 L145.0,684.8 L144.0,681.9 L143.0,679.1 L142.0,676.2 L141.0,673.4 L140.0,670.6 L139.0,667.7 L138.0,664.9 L137.0,662.1 L136.0,659.3 L135.0,656.5 L134.0,653.8 L133.0,651.1 L132.0,648.4 L131.0,645.8 L130.0,643.2 L129.0,640.6 L128.0,638.1 L127.0,635.6 L126.0,633.2 L125.0,630.8 L124.0,628.4 L123.0,626.1 L122.0,623.9 L121.0,621.7 L120.0,619.5 L119.0,617.4 L118.0,615.4 L117.0,613.3 L116.0,611.4 L115.0,609.5 L114.0,607.6 L113.0,605.8 L112.0,604.0 L111.0,602.3 L110.0,600.6 L109.0,598.9 L108.0,597.3 L107.0,595.8 L106.0,594.3 L105.0,592.8 L104.0,591.3 L103.0,589.9 L102.0,588.6 L101.0,587.3 L100.0,586.0 L99.0,584.7 L98.0,583.5 L97.0,582.3 L96.0,581.1 L95.0,580.0 L94.0,578.9 L93.0,577.8 L92.0,576.8 L91.0,575.8 L90.0,574.8 L89.0,573.8 L88.0,572.9 L87.0,572.0 L86.0,571.1 L85.0,570.2 L84.0,569.3 L83.0,568.5 L82.0,567.7 L81.0,566.9 L80.0,566.2 L79.0,565.4 L78.0,564.7 L77.0,564.0 L76.0,563.3 L75.0,562.6 L74.0,562.0 L73.0,561.3 L72.0,560.7 L71.0,560.1 L70.0,559.5 L69.0,558.9 L68.0,558.3 L67.0,557.8 L66.0,557.2 L65.0,556.7 L64.0,556.2 L63.0,555.7 L62.0,555.2 L61.0,554.7 L60.0,554.3 L59.0,553.8 L58.0,553.3 L57.0,552.9 L56.0,552.5 L55.0,552.1 L54.0,551.7 L53.0,551.3 L52.0,550.9 L51.0,550.5 L50.0,550.1 L49.0,549.7 L48.0,549.4 L47.0,549.0 L46.0,548.7 L45.0,548.4 L44.0,548.0 L43.0,547.7 L42.0,547.4 L41.0,547.1 L40.0,546.8 L39.0,546.5 L38.0,546.2 L37.0,546.0 L36.0,545.7 L35.0,545.4 L34.0,545.2 L33.0,544.9 L32.0,544.7 L31.0,544.4 L30.0,544.2 L29.0,544.0Z" fill="#868699"/>
  <path d="M29.0,519.0 L740.0,519.0 L740.0,537.8 L739.0,537.8 L738.0,537.7 L737.0,537.7 L736.0,537.7 L735.0,537.6 L734.0,537.6 L733.0,537.6 L732.0,537.6 L731.0,537.5 L730.0,537.5 L729.0,537.5 L728.0,537.5 L727.0,537.5 L726.0,537.5 L725.0,537.5 L724.0,537.5 L723.0,537.5 L722.0,537.5 L721.0,537.5 L720.0,537.5 L719.0,537.5 L718.0,537.5 L717.0,537.5 L716.0,537.5 L715.0,537.5 L714.0,537.5 L713.0,537.5 L712.0,537.5 L711.0,537.5 L710.0,537.5 L709.0,537.5 L708.0,537.5 L707.0,537.5 L706.0,537.5 L705.0,537.5 L704.0,537.5 L703.0,537.5 L702.0,537.5 L701.0,537.5 L700.0,537.5 L699.0,537.5 L698.0,537.5 L697.0,537.5 L696.0,537.5 L695.0,537.5 L694.0,537.5 L693.0,537.5 L692.0,537.5 L691.0,537.5 L690.0,537.5 L689.0,537.5 L688.0,537.5 L687.0,537.5 L686.0,537.5 L685.0,537.5 L684.0,537.5 L683.0,537.5 L682.0,537.5 L681.0,537.5 L680.0,537.5 L679.0,537.5 L678.0,537.5 L677.0,537.5 L676.0,537.5 L675.0,537.5 L674.0,537.5 L673.0,537.5 L672.0,537.5 L671.0,537.5 L670.0,537.5 L669.0,537.5 L668.0,537.5 L667.0,537.5 L666.0,537.5 L665.0,537.5 L664.0,537.5 L663.0,537.5 L662.0,537.5 L661.0,537.5 L660.0,537.5 L659.0,537.5 L658.0,537.5 L657.0,537.5 L656.0,537.5 L655.0,537.5 L654.0,537.5 L653.0,537.5 L652.0,537.5 L651.0,537.5 L650.0,537.5 L649.0,537.5 L648.0,537.5 L647.0,537.5 L646.0,537.5 L645.0,537.5 L644.0,537.5 L643.0,537.5 L642.0,537.5 L641.0,537.5 L640.0,537.5 L639.0,537.5 L638.0,537.5 L637.0,537.5 L636.0,537.5 L635.0,537.5 L634.0,537.5 L633.0,537.5 L632.0,537.5 L631.0,537.5 L630.0,537.5 L629.0,537.5 L628.0,537.5 L627.0,537.5 L626.0,537.5 L625.0,537.5 L624.0,537.5 L623.0,537.5 L622.0,537.5 L621.0,537.5 L620.0,537.5 L619.0,537.5 L618.0,537.5 L617.0,537.5 L616.0,537.5 L615.0,537.5 L614.0,537.5 L613.0,537.5 L612.0,537.5 L611.0,537.5 L610.0,537.5 L609.0,537.5 L608.0,537.5 L607.0,537.5 L606.0,537.5 L605.0,537.5 L604.0,537.5 L603.0,537.5 L602.0,537.5 L601.0,537.5 L600.0,537.5 L599.0,537.5 L598.0,537.5 L597.0,537.5 L596.0,537.5 L595.0,537.5 L594.0,537.5 L593.0,537.5 L592.0,537.5 L591.0,537.5 L590.0,537.5 L589.0,537.5 L588.0,537.5 L587.0,537.5 L586.0,537.5 L585.0,537.5 L584.0,537.5 L583.0,537.5 L582.0,537.5 L581.0,537.5 L580.0,537.5 L579.0,537.5 L578.0,537.5 L577.0,537.5 L576.0,537.5 L575.0,537.5 L574.0,537.5 L573.0,537.5 L572.0,537.5 L571.0,537.5 L570.0,537.5 L569.0,537.5 L568.0,537.6 L567.0,537.6 L566.0,537.6 L565.0,537.6 L564.0,537.7 L563.0,537.7 L562.0,537.7 L561.0,537.8 L560.0,537.8 L559.0,537.9 L558.0,537.9 L557.0,538.0 L556.0,538.0 L555.0,538.1 L554.0,538.2 L553.0,538.2 L552.0,538.3 L551.0,538.4 L550.0,538.4 L549.0,538.5 L548.0,538.6 L547.0,538.7 L546.0,538.8 L545.0,538.9 L544.0,538.9 L543.0,539.0 L542.0,539.1 L541.0,539.2 L540.0,539.4 L539.0,539.5 L538.0,539.6 L537.0,539.7 L536.0,539.8 L535.0,539.9 L534.0,540.1 L533.0,540.2 L532.0,540.3 L531.0,540.5 L530.0,540.6 L529.0,540.8 L528.0,540.9 L527.0,541.1 L526.0,541.2 L525.0,541.4 L524.0,541.6 L523.0,541.7 L522.0,541.9 L521.0,542.1 L520.0,542.3 L519.0,542.5 L518.0,542.6 L517.0,542.8 L516.0,543.1 L515.0,543.3 L514.0,543.5 L513.0,543.7 L512.0,543.9 L511.0,544.1 L510.0,544.4 L509.0,544.6 L508.0,544.9 L507.0,545.1 L506.0,545.4 L505.0,545.6 L504.0,545.9 L503.0,546.2 L502.0,546.5 L501.0,546.8 L500.0,547.0 L499.0,547.4 L498.0,547.7 L497.0,548.0 L496.0,548.3 L495.0,548.6 L494.0,549.0 L493.0,549.3 L492.0,549.7 L491.0,550.0 L490.0,550.4 L489.0,550.8 L488.0,551.2 L487.0,551.6 L486.0,552.0 L485.0,552.4 L484.0,552.8 L483.0,553.3 L482.0,553.7 L481.0,554.2 L480.0,554.6 L479.0,555.1 L478.0,555.6 L477.0,556.1 L476.0,556.6 L475.0,557.1 L474.0,557.7 L473.0,558.2 L472.0,558.8 L471.0,559.4 L470.0,560.0 L469.0,560.6 L468.0,561.2 L467.0,561.8 L466.0,562.5 L465.0,563.2 L464.0,563.8 L463.0,564.5 L462.0,565.3 L461.0,566.0 L460.0,566.8 L459.0,567.6 L458.0,568.4 L457.0,569.2 L456.0,570.0 L455.0,570.9 L454.0,571.8 L453.0,572.7 L452.0,573.6 L451.0,574.6 L450.0,575.6 L449.0,576.6 L448.0,577.6 L447.0,578.7 L446.0,579.8 L445.0,580.9 L444.0,582.0 L443.0,583.2 L442.0,584.4 L441.0,585.7 L440.0,587.0 L439.0,588.3 L438.0,589.7 L437.0,591.0 L436.0,592.5 L435.0,593.9 L434.0,595.5 L433.0,597.0 L432.0,598.6 L431.0,600.2 L430.0,601.9 L429.0,603.6 L428.0,605.4 L427.0,607.2 L426.0,609.1 L425.0,611.0 L424.0,612.9 L423.0,614.9 L422.0,617.0 L421.0,619.1 L420.0,621.2 L419.0,623.4 L418.0,625.7 L417.0,627.9 L416.0,630.3 L415.0,632.7 L414.0,635.1 L413.0,637.6 L412.0,640.1 L411.0,642.6 L410.0,645.2 L409.0,647.9 L408.0,650.5 L407.0,653.2 L406.0,656.0 L405.0,658.7 L404.0,661.5 L403.0,664.3 L402.0,667.1 L401.0,670.0 L400.0,672.8 L399.0,675.6 L398.0,678.5 L397.0,681.3 L396.0,684.2 L395.0,687.0 L394.0,689.8 L393.0,692.6 L392.0,695.4 L391.0,698.2 L390.0,700.9 L389.0,703.6 L388.0,706.3 L387.0,708.9 L386.0,711.5 L385.0,714.0 L384.0,716.5 L383.0,719.0 L382.0,721.4 L381.0,723.8 L380.0,726.2 L379.0,728.5 L378.0,730.7 L377.0,732.9 L376.0,735.0 L375.0,737.1 L374.0,739.2 L373.0,741.2 L372.0,743.1 L371.0,745.0 L370.0,746.9 L369.0,748.7 L368.0,750.5 L367.0,752.2 L366.0,753.8 L365.0,755.5 L364.0,757.1 L363.0,758.6 L362.0,760.1 L361.0,761.6 L360.0,763.0 L359.0,764.4 L358.0,765.8 L357.0,767.1 L356.0,768.4 L355.0,769.6 L354.0,770.8 L353.0,772.0 L352.0,773.2 L351.0,774.3 L350.0,775.4 L349.0,776.4 L348.0,777.5 L347.0,778.5 L346.0,779.5 L345.0,780.4 L344.0,781.4 L343.0,782.3 L342.0,783.2 L341.0,784.0 L340.0,784.9 L339.0,785.7 L338.0,786.5 L337.0,787.3 L336.0,788.0 L335.0,788.8 L334.0,789.5 L333.0,790.2 L332.0,790.9 L331.0,791.5 L330.0,792.2 L329.0,792.8 L328.0,793.5 L327.0,794.1 L326.0,794.7 L325.0,795.2 L324.0,795.8 L323.0,796.4 L322.0,796.9 L321.0,797.4 L320.0,797.9 L319.0,798.4 L318.0,798.9 L317.0,799.4 L316.0,799.9 L315.0,800.3 L314.0,800.8 L313.0,801.2 L312.0,801.6 L311.0,802.0 L310.0,802.4 L309.0,802.8 L308.0,803.2 L307.0,803.6 L306.0,804.0 L305.0,804.3 L304.0,804.7 L303.0,805.0 L302.0,805.4 L301.0,805.7 L300.0,806.0 L299.0,806.4 L298.0,806.7 L297.0,807.0 L296.0,807.3 L295.0,807.5 L294.0,807.5 L293.0,807.2 L292.0,806.9 L291.0,806.6 L290.0,806.3 L289.0,805.9 L288.0,805.6 L287.0,805.3 L286.0,805.0 L285.0,804.6 L284.0,804.2 L283.0,803.9 L282.0,803.5 L281.0,803.1 L280.0,802.7 L279.0,802.3 L278.0,801.9 L277.0,801.5 L276.0,801.1 L275.0,800.6 L274.0,800.2 L273.0,799.7 L272.0,799.3 L271.0,798.8 L270.0,798.3 L269.0,797.8 L268.0,797.3 L267.0,796.7 L266.0,796.2 L265.0,795.6 L264.0,795.1 L263.0,794.5 L262.0,793.9 L261.0,793.3 L260.0,792.7 L259.0,792.0 L258.0,791.4 L257.0,790.7 L256.0,790.0 L255.0,789.3 L254.0,788.6 L253.0,787.8 L252.0,787.0 L251.0,786.3 L250.0,785.5 L249.0,784.6 L248.0,783.8 L247.0,782.9 L246.0,782.0 L245.0,781.1 L244.0,780.2 L243.0,779.2 L242.0,778.2 L241.0,777.2 L240.0,776.2 L239.0,775.1 L238.0,774.0 L237.0,772.9 L236.0,771.7 L235.0,770.5 L234.0,769.3 L233.0,768.0 L232.0,766.7 L231.0,765.4 L230.0,764.0 L229.0,762.6 L228.0,761.2 L227.0,759.7 L226.0,758.2 L225.0,756.6 L224.0,755.0 L223.0,753.4 L222.0,751.7 L221.0,750.0 L220.0,748.2 L219.0,746.4 L218.0,744.5 L217.0,742.6 L216.0,740.6 L215.0,738.6 L214.0,736.6 L213.0,734.4 L212.0,732.3 L211.0,730.1 L210.0,727.8 L209.0,725.5 L208.0,723.2 L207.0,720.8 L206.0,718.3 L205.0,715.9 L204.0,713.3 L203.0,710.8 L202.0,708.2 L201.0,705.5 L200.0,702.8 L199.0,700.1 L198.0,697.4 L197.0,694.6 L196.0,691.9 L195.0,689.0 L194.0,686.2 L193.0,683.4 L192.0,680.6 L191.0,677.7 L190.0,674.9 L189.0,672.0 L188.0,669.2 L187.0,666.3 L186.0,663.5 L185.0,660.7 L184.0,658.0 L183.0,655.2 L182.0,652.5 L181.0,649.8 L180.0,647.1 L179.0,644.5 L178.0,641.9 L177.0,639.4 L176.0,636.9 L175.0,634.4 L174.0,632.0 L173.0,629.6 L172.0,627.3 L171.0,625.0 L170.0,622.8 L169.0,620.6 L168.0,618.5 L167.0,616.4 L166.0,614.4 L165.0,612.4 L164.0,610.4 L163.0,608.5 L162.0,606.7 L161.0,604.9 L160.0,603.1 L159.0,601.4 L158.0,599.8 L157.0,598.2 L156.0,596.6 L155.0,595.0 L154.0,593.5 L153.0,592.1 L152.0,590.7 L151.0,589.3 L150.0,587.9 L149.0,586.6 L148.0,585.3 L147.0,584.1 L146.0,582.9 L145.0,581.7 L144.0,580.6 L143.0,579.5 L142.0,578.4 L141.0,577.3 L140.0,576.3 L139.0,575.3 L138.0,574.3 L137.0,573.3 L136.0,572.4 L135.0,571.5 L134.0,570.6 L133.0,569.8 L132.0,568.9 L131.0,568.1 L130.0,567.3 L129.0,566.6 L128.0,565.8 L127.0,565.1 L126.0,564.4 L125.0,563.7 L124.0,563.0 L123.0,562.3 L122.0,561.7 L121.0,561.0 L120.0,560.4 L119.0,559.8 L118.0,559.2 L117.0,558.6 L116.0,558.1 L115.0,557.5 L114.0,557.0 L113.0,556.5 L112.0,556.0 L111.0,555.5 L110.0,555.0 L109.0,554.5 L108.0,554.0 L107.0,553.6 L106.0,553.1 L105.0,552.7 L104.0,552.3 L103.0,551.9 L102.0,551.5 L101.0,551.1 L100.0,550.7 L99.0,550.3 L98.0,549.9 L97.0,549.6 L96.0,549.2 L95.0,548.9 L94.0,548.5 L93.0,548.2 L92.0,547.9 L91.0,547.6 L90.0,547.3 L89.0,547.0 L88.0,546.7 L87.0,546.4 L86.0,546.1 L85.0,545.8 L84.0,545.6 L83.0,545.3 L82.0,545.0 L81.0,544.8 L80.0,544.6 L79.0,544.3 L78.0,544.1 L77.0,543.9 L76.0,543.6 L75.0,543.4 L74.0,543.2 L73.0,543.0 L72.0,542.8 L71.0,542.6 L70.0,542.4 L69.0,542.2 L68.0,542.0 L67.0,541.9 L66.0,541.7 L65.0,541.5 L64.0,541.3 L63.0,541.2 L62.0,541.0 L61.0,540.9 L60.0,540.7 L59.0,540.6 L58.0,540.4 L57.0,540.3 L56.0,540.2 L55.0,540.0 L54.0,539.9 L53.0,539.8 L52.0,539.7 L51.0,539.5 L50.0,539.4 L49.0,539.3 L48.0,539.2 L47.0,539.1 L46.0,539.0 L45.0,538.9 L44.0,538.8 L43.0,538.7 L42.0,538.7 L41.0,538.6 L40.0,538.5 L39.0,538.4 L38.0,538.3 L37.0,538.3 L36.0,538.2 L35.0,538.1 L34.0,538.1 L33.0,538.0 L32.0,538.0 L31.0,537.9 L30.0,537.9 L29.0,537.8Z" fill="#5a5a5a"/>
 </g>
 <path d="M28.0,536.2 L33.1,536.2 M137.9,539.0 L121.5,539.7 L105.1,539.5 L88.8,537.9 L75.9,536.0 L63.1,538.6 L57.2,541.4 L55.6,543.7 L60.7,545.1 L66.6,544.2 L56.5,547.2 L63.1,548.9 L54.9,550.7 L64.9,551.9 L56.5,554.9 L58.4,558.2 L53.7,558.9 L55.6,560.5 L63.1,561.5 L74.8,562.4 L79.9,563.6 L70.1,566.4 L59.6,569.4 M59.6,569.4 L71.2,565.2 L82.2,561.9 L86.4,556.1 L83.6,560.1 L95.8,557.7 L105.1,558.9 L114.5,562.4 L120.3,568.3 L122.7,566.6 L130.9,576.4 L141.4,581.6 L139.0,583.5 L138.3,596.3 L142.5,602.2 L149.6,610.3 L155.4,612.7 L156.6,619.0 L166.4,632.5 L168.3,629.7 L161.7,618.1 L158.0,614.3 L156.1,614.3 M130.9,576.9 L136.0,577.8 L141.4,581.1 L135.5,580.6 L130.9,576.9 M78.3,560.8 L82.9,560.1 L84.1,563.6 L79.9,564.8 L78.3,560.8 M168.3,623.7 L175.3,632.5 L175.7,638.4 L187.0,644.2 L198.6,647.7 L208.0,650.1 M208.0,618.5 L198.6,618.5 L192.8,623.2 L191.6,632.5 L196.3,640.7 L202.2,641.2 L208.0,634.9 M37.4,573.2 L39.7,575.0 M49.5,573.2 L52.3,571.3 M59.6,569.2 L68.9,566.2 M76.4,636.8 L77.8,639.6 M128.0,539.0 L147.5,539.8 L157.2,542.9 L165.0,542.4 L184.5,541.8 L194.2,542.4 L195.2,537.5 L194.2,532.6 L205.9,531.6 L211.8,532.6 L207.9,534.6 L209.8,537.5 L215.7,539.0 L221.5,541.0 L223.1,543.3 L219.6,545.3 L213.7,547.2 L207.9,551.1 L202.0,554.0 L196.6,559.3 L202.0,563.8 L213.7,566.7 L221.5,568.6 L223.5,573.5 L227.0,574.9 L228.3,570.6 L233.2,565.7 L230.3,560.9 L230.9,556.0 L237.1,554.6 L244.9,556.0 L250.7,561.8 L256.6,558.9 L262.4,564.8 L268.3,569.6 L273.1,574.5 L271.2,576.4 L256.6,578.4 L250.7,580.3 L244.9,584.2 M136.8,534.6 L138.7,531.2 L144.6,529.7 L149.4,526.8 L154.3,525.8 L151.4,528.1 L157.2,528.7 L173.8,527.7 L167.0,529.7 L159.2,529.7 L153.3,532.0 L173.8,532.6 L177.7,536.5 L184.5,539.4 L192.3,537.5 L195.2,537.5 M136.8,534.6 L141.6,537.1 L151.4,537.1 L157.2,535.5 L151.4,533.6 L155.3,532.0 M161.1,522.9 L167.9,522.9 M176.7,520.9 L185.5,521.9 M178.6,526.8 L189.4,526.8 M183.5,533.6 L186.4,531.6 L192.3,532.0 L193.3,535.1 L188.4,536.5 L183.5,533.6 M192.3,522.9 L200.1,523.8 L196.2,526.2 L205.9,527.7 L213.7,526.8 L221.5,528.7 L213.7,529.7 L205.9,531.6 M219.6,531.6 L229.3,532.6 L241.0,536.5 L254.6,542.4 L262.4,546.2 L255.6,549.2 L252.7,554.0 L244.9,552.7 L237.1,551.1 L231.2,549.2 L241.0,547.2 L237.1,544.3 L233.2,543.3 L231.2,545.3 L225.4,541.0 L221.5,541.0 M252.7,554.0 L255.6,547.2 L249.8,547.2 L262.4,546.2 M196.2,519.0 L209.8,521.9 L221.5,526.8 L237.1,521.9 L257.5,519.0 M213.7,549.2 L219.6,548.2 L223.5,551.1 L217.6,552.7 L213.7,549.2 M225.0,554.0 L227.4,555.0 M202.4,585.8 L210.8,580.7 L215.7,582.3 L213.7,585.2 L210.8,588.1 L210.8,594.0 L213.7,593.0 L214.7,588.1 L219.6,586.6 L225.4,587.2 L227.4,590.1 L221.5,591.6 L219.6,589.1 L223.5,594.0 L233.2,591.1 L219.6,595.5 M243.1,521.3 L257.1,519.9 L269.9,527.4 L277.0,535.5 L285.1,540.2 L278.1,543.7 L282.8,550.7 L287.5,555.4 L298.0,558.2 L303.8,549.6 L320.2,542.5 L338.9,540.2 L340.1,534.4 L344.8,528.5 L347.8,519.2 M244.2,584.6 L250.1,579.9 L257.1,578.3 L272.3,576.0 M267.6,583.5 L271.1,577.6 L278.1,581.1 L280.0,584.6 L267.6,583.5 M257.1,578.3 L258.3,585.8 L264.1,585.8 L254.8,590.5 L245.4,592.8 L236.1,598.6 L233.7,601.0 L234.2,606.8 L224.4,613.8 L223.2,616.2 L226.2,626.7 L224.4,627.4 L218.5,618.5 L208.0,617.4 M217.4,633.7 L223.2,631.4 L231.4,633.7 L236.1,637.2 L230.2,636.1 L222.0,633.7 L217.4,633.7 M238.4,639.1 L243.1,637.7 L248.9,639.6 L243.1,641.9 L238.4,640.7 L238.4,639.1 M251.2,640.7 L254.3,640.7 M229.5,641.4 L233.2,641.4 M208.0,634.9 L212.2,634.9 L210.3,645.4 L218.5,646.6 L219.7,655.9 L225.5,660.6 L229.0,658.3 L231.4,662.9 L230.2,671.1 L225.5,677.9 M208.0,651.2 L215.0,658.3 L225.5,661.8 M229.0,659.4 L233.7,655.9 L243.1,653.6 L245.4,655.9 L258.3,656.4 L264.1,659.4 L271.1,664.8 L280.5,667.6 L285.1,673.5 L286.3,677.9 M351.1,634.9 L351.1,648.9 L357.6,660.6 L369.3,667.6 L381.0,668.1 L388.0,665.7 M336.6,548.4 L342.4,546.5 L352.9,546.1 L357.6,548.4 L352.9,551.2 L343.6,552.1 L336.6,548.4 M373.3,563.4 L375.3,561.0 L380.1,563.0 L377.2,565.3 L380.1,567.3 L384.0,572.1 L387.9,575.1 L387.0,578.0 L382.1,578.0 L375.3,579.0 L377.2,576.0 L374.3,575.1 L377.2,573.1 L375.3,569.2 L373.3,566.3 L373.3,563.4 M364.6,572.1 L367.5,569.2 L372.4,568.8 L374.3,572.1 L371.4,575.1 L366.5,575.1 L364.6,572.1 M420.1,540.0 L410.3,547.8 L404.5,551.7 L395.7,554.6 L394.4,558.5 L396.7,561.8 L403.5,561.0 L405.5,564.4 L404.5,569.6 L394.8,572.1 L387.9,575.5 L381.1,579.9 L375.3,581.9 L383.1,586.8 L381.1,591.0 L366.5,592.6 L367.5,604.3 L373.3,606.2 M406.4,566.3 L412.3,565.3 L419.1,559.5 L421.1,556.6 L425.9,549.7 L430.8,547.4 L433.3,548.8 L428.8,552.7 L426.9,557.5 L428.3,559.5 L443.5,558.5 L428.8,561.8 L426.9,569.2 L408.4,569.2 L404.5,569.6 M404.5,563.4 L406.4,566.3 L408.4,569.2 M373.3,606.2 L383.1,600.4 L389.9,592.6 L398.6,591.6 L403.5,589.7 L406.4,591.0 L412.3,596.9 L416.2,601.4 L421.1,598.1 L416.2,595.5 L411.3,589.7 L409.9,587.7 L411.3,586.4 L429.8,604.3 L428.8,598.4 L433.7,596.5 L437.6,597.5 L436.6,601.4 L441.5,604.3 L449.3,606.2 L455.1,605.8 L454.2,611.1 L453.2,615.0 L444.4,616.0 L433.7,613.1 L424.9,613.1 L421.6,617.5 L414.2,612.5 L405.5,609.2 L404.5,605.3 L394.8,604.3 L379.2,607.2 L373.3,606.2 M409.4,602.3 L415.2,601.4 L414.6,603.9 L409.9,603.9 L409.4,602.3 M401.6,592.2 L403.5,592.2 L403.5,600.4 L401.0,600.4 L401.6,592.2 M389.3,598.4 L391.2,597.5 M431.4,606.6 L436.6,607.2 M448.3,607.2 L452.2,606.2 L450.3,608.6 L448.3,607.2 M437.6,597.5 L439.6,591.6 L444.4,585.8 L449.3,585.2 L451.2,588.3 L457.1,587.7 L465.9,592.6 L464.9,594.9 L449.3,593.6 L441.5,596.5 L438.6,593.6 M373.3,606.2 L367.5,612.1 L364.6,619.9 L357.7,625.7 L350.9,635.5 L351.9,639.9 M418.4,540.2 L434.8,537.2 L444.1,537.9 L455.8,541.4 L465.1,542.5 L468.6,544.9 L471.0,541.4 L476.8,543.7 L490.9,540.2 L502.5,539.0 L515.4,540.2 L518.9,541.4 L525.9,537.9 L527.8,533.9 L528.3,543.7 L531.1,543.7 L531.1,537.2 L532.5,539.5 L547.0,534.4 L568.0,528.5 M451.1,546.1 L465.1,542.5 L460.5,549.6 L455.8,549.6 L451.1,546.1 M486.2,534.4 L495.5,528.5 L518.9,525.0 L520.1,526.9 L497.9,533.2 L494.4,537.9 L486.2,534.4 M409.0,520.3 L420.0,525.0 L424.9,521.7 L433.6,523.4 L434.8,519.9 L425.4,518.7 L416.1,519.2 L409.0,520.3 M476.8,588.1 L482.7,585.8 L488.5,584.6 L486.2,592.8 L492.0,595.1 L490.9,604.5 L483.8,605.0 L481.5,598.6 L482.7,594.0 L478.0,591.6 L476.8,588.1 M500.2,587.0 L503.7,585.3 L506.8,587.0 L506.1,590.9 L502.1,591.6 L500.2,587.0 M529.4,587.0 L532.9,585.3 L538.8,585.8 M445.3,616.2 L448.8,619.7 L452.3,620.9 L455.8,627.9 L462.8,639.6 L469.8,652.4 L472.2,655.9 L485.0,653.6 L481.5,662.9 L474.5,671.1 L468.6,677.9 M449.2,617.4 L458.1,637.2 L468.6,653.6 L471.0,651.7 L481.5,648.9 L490.9,644.2 L497.9,640.7 L502.5,632.5 L496.7,627.9 L494.4,624.4 L488.5,629.0 L486.2,626.7 L481.5,620.9 L479.2,618.5 L482.7,619.7 L490.9,627.9 L495.5,624.4 L509.6,627.4 L516.6,626.7 L522.4,632.5 L525.9,634.9 L527.8,632.5 L537.6,660.6 L542.3,648.9 L543.5,645.4 L551.6,640.7 L556.3,634.9 M542.3,659.4 L545.1,658.3 L547.0,662.9 L544.2,665.7 L542.3,659.4 M388.0,664.1 L396.2,667.6 L403.2,669.9 L404.4,673.5 L402.0,677.9 M568.0,526.2 L582.0,522.7 L591.4,521.5 L593.7,523.8 L607.7,527.4 L605.4,530.9 L619.4,533.2 L638.1,532.0 L640.5,535.5 L649.8,534.8 L661.5,532.0 L670.9,533.2 L680.2,536.7 L698.9,537.9 L708.3,539.5 L719.9,540.2 L722.3,538.6 L731.6,539.5 L740.1,540.2 M654.5,527.8 L666.2,526.2 L670.9,528.5 L661.5,529.7 L654.5,527.8 M674.4,527.8 L683.7,527.8 M661.5,532.0 L668.5,532.5 M740.1,541.4 L742.2,542.5 L742.2,547.2 L740.1,547.9 M740.1,553.1 L727.0,556.6 L717.6,558.2 L708.3,560.1 L704.8,568.3 L697.7,575.3 L694.2,570.6 L694.2,565.9 L702.4,558.9 L708.3,554.2 L698.9,555.4 L689.6,559.6 L682.5,560.1 L666.2,560.5 L652.2,568.3 L666.2,572.2 L661.5,581.1 L649.8,592.8 L642.8,593.3 L637.0,599.4 L639.3,601.0 L640.5,608.0 L635.8,609.6 L633.5,601.0 L627.6,599.4 L624.1,601.0 L626.4,597.5 L618.3,600.3 L621.8,605.0 L622.2,610.1 M589.0,574.6 L596.1,572.9 L601.9,567.6 L597.2,572.2 L590.2,575.3 L589.0,574.6 M665.1,571.4 L666.7,570.6 L667.8,576.0 L670.1,580.7 L667.3,581.8 L667.0,584.6 L669.4,586.9 L666.2,587.7 L665.5,590.1 L664.2,584.6 L664.7,578.4 L665.1,571.4 M661.6,594.0 L665.5,590.1 L670.9,591.2 L668.6,594.3 L663.9,595.2 L661.6,594.0 M663.1,595.2 L664.2,601.8 L662.3,607.2 L654.5,609.5 L646.8,610.3 L641.3,611.9 L642.9,615.5 L645.2,611.9 L651.4,608.8 L657.7,604.1 L661.6,600.2 L662.3,595.8 L663.1,595.2 M623.4,597.4 L625.7,596.8 L625.7,599.4 L623.4,600.5 L626.2,603.3 L622.6,605.6 M555.8,635.3 L562.6,633.4 L564.6,633.4 L571.4,642.1 L573.3,646.0 L577.2,644.1 L580.1,656.8 L578.8,660.6 L583.1,666.5 L588.9,673.3 L589.9,668.4 L582.1,651.9 L591.8,658.7 L599.6,655.2 L599.0,647.0 L594.4,639.2 L599.0,635.3 L602.5,634.9 L615.2,631.8 L621.1,626.6 L625.5,617.8 L624.9,612.9 L622.0,610.0 M599.6,638.2 L602.5,637.3 L602.9,639.6 L600.2,640.2 L599.6,638.2 M623.0,628.5 L624.9,627.5 L624.0,632.4 L622.4,631.0 L623.0,628.5 M572.4,666.5 L579.2,667.5 L589.9,674.3 L593.8,683.1 L593.2,688.9 L587.0,683.1 L579.2,672.3 L572.4,666.5 M592.4,689.5 L604.5,690.8 L616.2,693.8 L623.0,694.2 L621.1,696.1 L610.3,694.2 L592.4,690.8 L592.4,689.5 M628.8,696.7 L635.7,694.7 M599.6,674.3 L606.4,672.3 L615.2,665.5 L620.1,667.5 L617.2,672.3 L617.2,676.2 L613.3,685.0 L606.4,684.0 L601.6,680.1 L599.6,674.3 M616.6,660.3 L621.1,655.2 M622.0,642.1 L625.5,641.2 L625.9,646.0 L624.9,649.9 L623.0,648.0 L622.0,642.1 M625.9,649.9 L631.8,651.9 L633.7,656.8 L630.8,655.8 L632.7,660.6 L634.7,663.6 L630.8,665.5 L625.9,662.6 L629.8,660.6 L626.9,655.8 L625.9,649.9 M621.1,677.2 L630.8,675.8 L623.0,678.2 L624.9,682.1 L626.9,686.0 L624.0,683.6 L622.0,687.9 L620.1,683.1 L621.1,677.2 M636.6,675.3 L639.2,676.2 L638.0,678.6 M638.6,683.6 L643.5,684.0 M643.5,680.5 L650.3,678.6 L651.2,683.6 L658.1,680.1 L669.8,683.6 L674.6,689.9 L682.0,696.7 L676.6,695.7 L669.8,692.8 L666.8,695.7 L659.0,694.7 L656.1,689.9 L650.3,686.9 L643.5,680.5 M676.6,688.9 L684.4,687.9 L685.3,686.0 M691.2,688.3 L692.5,690.3 M225.5,678.0 L223.2,686.2 L230.2,696.7 L236.1,706.1 L245.4,713.1 L245.4,727.1 L243.1,741.1 L239.6,752.8 L238.4,764.5 L234.2,770.3 L235.6,778.5 L239.6,784.4 L246.6,786.7 L254.8,785.5 L247.7,779.7 L253.6,771.5 L250.5,768.7 L258.3,759.8 L255.9,758.6 L261.3,754.0 L269.9,752.3 L272.3,747.0 L269.9,745.8 L277.0,745.3 L288.6,734.1 L288.6,728.3 L300.3,723.6 L305.0,717.7 L308.5,701.4 L314.4,694.4 L315.1,688.5 L308.5,683.8 L296.8,681.5 L288.6,678.0 M263.6,779.7 L270.6,779.0 M234.2,815.9 L252.4,807.0 L269.9,803.8 L262.9,825.3 L292.2,832.3 L306.2,831.6 L329.6,825.3 L357.6,817.8 L388.0,815.9 M402.0,678.0 L410.2,687.4 L411.4,699.0 L408.6,710.7 L412.5,722.4 L417.2,735.3 L420.7,741.1 L420.7,745.8 L431.2,745.3 L438.3,743.5 L446.4,734.1 L449.2,729.4 L453.9,725.9 L453.5,718.9 L465.1,707.2 L462.3,689.7 L462.8,683.8 L469.8,678.0 M482.7,701.4 L485.0,706.1 L481.5,716.6 L478.0,727.1 L472.2,725.9 L470.3,718.9 L472.2,710.7 L478.0,706.1 L482.7,701.4 M448.3,676.1 L449.2,683.1 L451.6,681.5 L452.3,676.1 L448.3,676.1 M442.2,683.8 L445.3,694.4 M388.0,817.8 L399.7,816.4 L418.4,815.9 L434.8,814.3 L448.8,812.4 L462.8,814.1 L483.8,809.4 L490.9,809.4 L511.9,811.2 L521.2,811.7 L532.9,814.1 L551.6,808.4 L568.0,808.0 M608.9,725.9 L611.2,721.2 L617.1,718.2 L624.1,715.4 L626.4,711.9 L634.6,706.1 L637.0,705.6 L638.1,706.5 L642.8,702.5 L646.3,700.9 L654.5,701.4 L653.3,705.6 L652.2,707.2 L658.0,710.7 L663.4,710.7 L663.8,704.9 L666.2,699.0 L670.9,707.2 L675.5,714.2 L682.5,720.1 L687.7,725.9 L688.4,732.9 L684.9,743.5 L682.5,749.3 L675.5,754.0 L668.5,753.3 L661.5,749.3 L658.0,745.8 L656.4,743.0 L655.0,747.0 L652.2,743.5 L646.3,739.9 L642.8,739.2 L629.9,742.3 L618.3,745.8 L612.9,745.3 L612.4,737.6 L608.9,729.4 L608.9,725.9 M670.9,758.6 L677.4,758.6 L676.0,763.3 L673.2,762.6 L670.9,758.6 M726.5,745.3 L731.6,750.5 L737.5,751.6 L735.1,756.3 L730.5,758.6 L729.3,755.1 M729.3,758.6 L722.3,764.5 L717.6,770.3 L713.4,768.0 L719.9,762.6 L727.0,757.5 M700.1,694.8 L705.9,697.9 M708.3,717.3 L714.8,721.2 M735.1,712.6 L738.2,711.2 L738.6,713.5 L735.1,712.6 M568.0,808.4 L582.0,807.0 L598.4,809.4 L607.7,807.3 L617.1,809.4 L635.8,808.4 L649.8,807.7 L661.5,808.9 L677.9,811.7 L694.2,813.6 L721.1,818.3 L719.9,821.1 L709.4,825.7 L710.6,829.9 L722.3,831.1 L740.1,832.8 M202.5,679.3 L204.5,678.3 M29.0,831.0 L62.0,831.0 L72.0,828.5 L143.0,821.7 L176.6,824.0 L183.3,820.0 L210.0,818.0 L235.0,818.3 L242.5,822.0" fill="none" stroke="#000" stroke-width="1" stroke-linejoin="round" shape-rendering="crispEdges"/>
 <g shape-rendering="crispEdges">
  <rect x="650" y="519" width="1" height="317" fill="#000"/>
  <rect x="28" y="518" width="713" height="1" fill="#000"/>
  <rect x="28" y="518" width="1" height="319" fill="#000"/>
  <rect x="740" y="518" width="1" height="319" fill="#000"/>
  <rect x="28" y="835" width="713" height="2" fill="#000"/>
 </g>
 <circle cx="650.5" cy="715" r="4.2" fill="#000"/>
</svg>
<div class="t" id="url" style="left:160.00px;top:10.43px;font-size:28.2px;transform-origin:0 0;transform:scaleX(1.0288);">www.EclipseWise.com/eclipse.html</div>
<div class="t" id="ttl" style="left:30.39px;top:63.93px;font-size:48.4px;font-weight:bold;transform-origin:0 0;transform:scaleX(1.0000);">Partial</div>
<div class="t" id="date" style="left:456.31px;top:63.93px;font-size:48.4px;font-weight:bold;transform-origin:0 0;transform:scaleX(0.9971);">1742 May 19</div>
<div class="t" id="saros" style="left:30.01px;top:117.42px;font-size:39.9px;transform-origin:0 0;transform:scaleX(0.9956);">Saros 107</div>
<div class="t" id="time" style="left:566.63px;top:117.39px;font-size:39.7px;transform-origin:0 0;transform:scaleX(0.9886);">14:59 TD</div>
<div class="t" id="node" style="left:28.89px;top:164.37px;font-size:31.1px;transform-origin:0 0;transform:scaleX(1.0357);">D.Node</div>
<div class="t" id="dt1" style="left:569.78px;top:164.56px;font-size:31.0px;transform-origin:0 0;transform:scaleX(1.0259);">&#916;T=</div>
<div class="t" id="dt2" style="left:675.95px;top:164.56px;font-size:31.0px;transform-origin:0 0;transform:scaleX(1.0259);">12s</div>
<div class="t" id="par" style="left:29.26px;top:430.40px;font-size:34.5px;transform-origin:0 0;transform:scaleX(1.0561);">Par. = 107m</div>
<div class="t" id="gam" style="left:29.00px;top:473.40px;font-size:34.5px;transform-origin:0 0;transform:scaleX(1.0469);">Gam. = 0.8846</div>
<div class="t" id="umag" style="left:469.49px;top:430.40px;font-size:34.5px;transform-origin:0 0;transform:scaleX(1.0429);">U.Mag. = 0.1998</div>
<div class="t" id="pmag" style="left:471.73px;top:469.20px;font-size:34.5px;transform-origin:0 0;transform:scaleX(1.0580);">P.Mag. = 1.2706</div>
<div class="t" id="canon" style="left:126.23px;top:864.63px;font-size:28.2px;font-weight:bold;font-style:italic;transform-origin:0 0;transform:scaleX(1.0320);">Thousand Year Canon of Lunar Eclipses</div>
<div class="t" id="copy" style="left:227.77px;top:900.11px;font-size:24.2px;transform-origin:0 0;transform:scaleX(1.0347);">&#169;2014 by Fred Espenak</div>

</body></html>
